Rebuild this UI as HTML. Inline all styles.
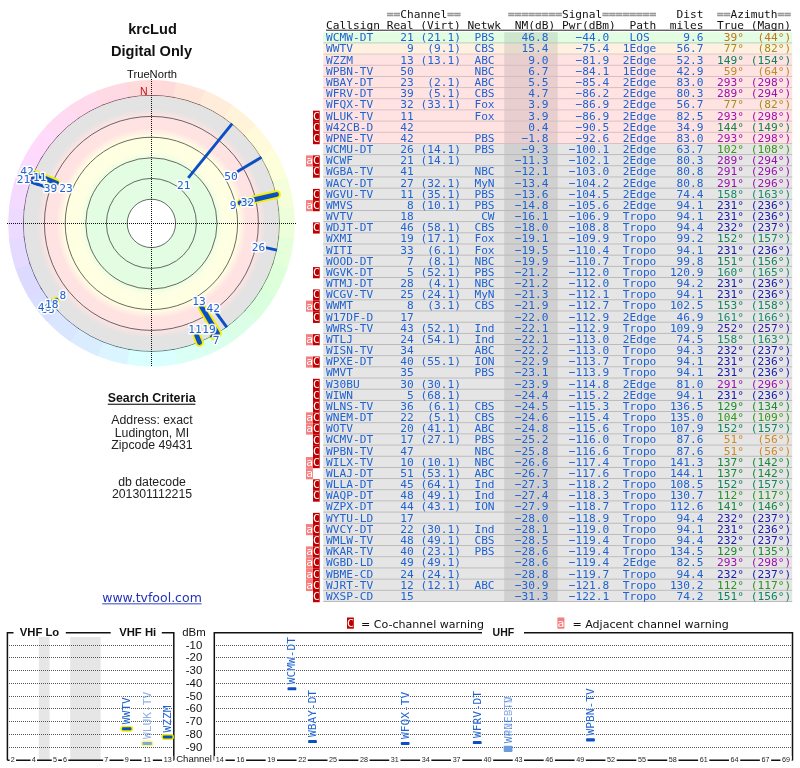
<!DOCTYPE html>
<html><head><meta charset="utf-8"><title>TV Fool radar plot - krcLud</title>
<style>html,body{margin:0;padding:0;background:#fff}svg{display:block;will-change:transform}.m{font-family:"DejaVu Sans Mono", "Liberation Mono", monospace;font-size:11px}.s{font-family:"Liberation Sans", sans-serif}.v{font-family:"DejaVu Sans", "Liberation Sans", sans-serif}</style></head><body>
<svg width="800" height="768" viewBox="0 0 800 768">
<rect width="800" height="768" fill="#fff"/>
<defs><radialGradient id="rg" gradientUnits="userSpaceOnUse" cx="151.4" cy="223.4" r="128">
<stop offset="0.0000" stop-color="#e2fde2"/>
<stop offset="0.4922" stop-color="#e2fde2"/>
<stop offset="0.5586" stop-color="#feffe2"/>
<stop offset="0.6758" stop-color="#ffffe2"/>
<stop offset="0.7422" stop-color="#ffe3e3"/>
<stop offset="0.8359" stop-color="#ffe3e3"/>
<stop offset="0.8945" stop-color="#e3e3e3"/>
<stop offset="1.0000" stop-color="#e3e3e3"/>
</radialGradient></defs>
<path d="M151.40 223.40L125.78 82.41A143.3 143.3 0 0 1 177.02 82.41Z" fill="#ffdada"/>
<path d="M151.40 223.40L175.54 82.15A143.3 143.3 0 0 1 206.47 91.10Z" fill="#ffe4da"/>
<path d="M151.40 223.40L205.08 90.53A143.3 143.3 0 0 1 233.39 105.87Z" fill="#ffecda"/>
<path d="M151.40 223.40L232.15 105.02A143.3 143.3 0 0 1 256.54 126.04Z" fill="#fff3da"/>
<path d="M151.40 223.40L255.52 124.94A143.3 143.3 0 0 1 274.87 150.67Z" fill="#fffbda"/>
<path d="M151.40 223.40L274.10 149.38A143.3 143.3 0 0 1 287.53 178.64Z" fill="#fcffda"/>
<path d="M151.40 223.40L287.05 177.22A143.3 143.3 0 0 1 293.94 208.67Z" fill="#f4ffda"/>
<path d="M151.40 223.40L293.78 207.18A143.3 143.3 0 0 1 293.81 239.37Z" fill="#edffda"/>
<path d="M151.40 223.40L293.97 237.88A143.3 143.3 0 0 1 287.14 269.34Z" fill="#e5ffda"/>
<path d="M151.40 223.40L287.61 267.92A143.3 143.3 0 0 1 274.23 297.20Z" fill="#ddffda"/>
<path d="M151.40 223.40L275.00 295.91A143.3 143.3 0 0 1 255.69 321.68Z" fill="#daffde"/>
<path d="M151.40 223.40L256.71 320.58A143.3 143.3 0 0 1 232.36 341.64Z" fill="#daffe6"/>
<path d="M151.40 223.40L233.59 340.78A143.3 143.3 0 0 1 205.31 356.17Z" fill="#daffed"/>
<path d="M151.40 223.40L206.70 355.60A143.3 143.3 0 0 1 175.79 364.61Z" fill="#dafff5"/>
<path d="M151.40 223.40L177.27 364.35A143.3 143.3 0 0 1 125.53 364.35Z" fill="#daffff"/>
<path d="M151.40 223.40L127.01 364.61A143.3 143.3 0 0 1 96.10 355.60Z" fill="#daf5ff"/>
<path d="M151.40 223.40L97.49 356.17A143.3 143.3 0 0 1 69.21 340.78Z" fill="#daedff"/>
<path d="M151.40 223.40L70.44 341.64A143.3 143.3 0 0 1 46.09 320.58Z" fill="#dae6ff"/>
<path d="M151.40 223.40L47.11 321.68A143.3 143.3 0 0 1 27.80 295.91Z" fill="#dadeff"/>
<path d="M151.40 223.40L28.57 297.20A143.3 143.3 0 0 1 15.19 267.92Z" fill="#dddaff"/>
<path d="M151.40 223.40L15.66 269.34A143.3 143.3 0 0 1 8.83 237.88Z" fill="#e5daff"/>
<path d="M151.40 223.40L8.99 239.37A143.3 143.3 0 0 1 9.02 207.18Z" fill="#eddaff"/>
<path d="M151.40 223.40L8.86 208.67A143.3 143.3 0 0 1 15.75 177.22Z" fill="#f4daff"/>
<path d="M151.40 223.40L15.27 178.64A143.3 143.3 0 0 1 28.70 149.38Z" fill="#fcdaff"/>
<path d="M151.40 223.40L27.93 150.67A143.3 143.3 0 0 1 47.28 124.94Z" fill="#ffdafb"/>
<path d="M151.40 223.40L46.26 126.04A143.3 143.3 0 0 1 70.65 105.02Z" fill="#ffdaf3"/>
<path d="M151.40 223.40L69.41 105.87A143.3 143.3 0 0 1 97.72 90.53Z" fill="#ffdaec"/>
<path d="M151.40 223.40L96.33 91.10A143.3 143.3 0 0 1 127.26 82.15Z" fill="#ffdae4"/>
<circle cx="151.4" cy="223.4" r="127.9" fill="#e3e3e3"/>
<path d="M128.53 97.56A127.9 127.9 0 0 1 174.27 97.56" fill="none" stroke="#733f3f" stroke-width="0.9"/>
<path d="M172.95 97.33A127.9 127.9 0 0 1 200.55 105.32" fill="none" stroke="#734d3f" stroke-width="0.9"/>
<path d="M199.31 104.81A127.9 127.9 0 0 1 224.58 118.50" fill="none" stroke="#73583f" stroke-width="0.9"/>
<path d="M223.47 117.74A127.9 127.9 0 0 1 245.24 136.50" fill="none" stroke="#73623f" stroke-width="0.9"/>
<path d="M244.33 135.52A127.9 127.9 0 0 1 261.60 158.49" fill="none" stroke="#736d3f" stroke-width="0.9"/>
<path d="M260.92 157.34A127.9 127.9 0 0 1 272.90 183.45" fill="none" stroke="#6e733f" stroke-width="0.9"/>
<path d="M272.48 182.18A127.9 127.9 0 0 1 278.62 210.25" fill="none" stroke="#64733f" stroke-width="0.9"/>
<path d="M278.48 208.92A127.9 127.9 0 0 1 278.50 237.66" fill="none" stroke="#59733f" stroke-width="0.9"/>
<path d="M278.65 236.33A127.9 127.9 0 0 1 272.55 264.41" fill="none" stroke="#4e733f" stroke-width="0.9"/>
<path d="M272.97 263.14A127.9 127.9 0 0 1 261.03 289.27" fill="none" stroke="#44733f" stroke-width="0.9"/>
<path d="M261.72 288.12A127.9 127.9 0 0 1 244.48 311.12" fill="none" stroke="#3f7345" stroke-width="0.9"/>
<path d="M245.40 310.14A127.9 127.9 0 0 1 223.66 328.93" fill="none" stroke="#3f7350" stroke-width="0.9"/>
<path d="M224.76 328.17A127.9 127.9 0 0 1 199.52 341.90" fill="none" stroke="#3f735a" stroke-width="0.9"/>
<path d="M200.76 341.39A127.9 127.9 0 0 1 173.17 349.43" fill="none" stroke="#3f7365" stroke-width="0.9"/>
<path d="M174.49 349.20A127.9 127.9 0 0 1 128.31 349.20" fill="none" stroke="#3f7373" stroke-width="0.9"/>
<path d="M129.63 349.43A127.9 127.9 0 0 1 102.04 341.39" fill="none" stroke="#3f6573" stroke-width="0.9"/>
<path d="M103.28 341.90A127.9 127.9 0 0 1 78.04 328.17" fill="none" stroke="#3f5a73" stroke-width="0.9"/>
<path d="M79.14 328.93A127.9 127.9 0 0 1 57.40 310.14" fill="none" stroke="#3f5073" stroke-width="0.9"/>
<path d="M58.32 311.12A127.9 127.9 0 0 1 41.08 288.12" fill="none" stroke="#3f4573" stroke-width="0.9"/>
<path d="M41.77 289.27A127.9 127.9 0 0 1 29.83 263.14" fill="none" stroke="#443f73" stroke-width="0.9"/>
<path d="M30.25 264.41A127.9 127.9 0 0 1 24.15 236.33" fill="none" stroke="#4e3f73" stroke-width="0.9"/>
<path d="M24.30 237.66A127.9 127.9 0 0 1 24.32 208.92" fill="none" stroke="#593f73" stroke-width="0.9"/>
<path d="M24.18 210.25A127.9 127.9 0 0 1 30.32 182.18" fill="none" stroke="#643f73" stroke-width="0.9"/>
<path d="M29.90 183.45A127.9 127.9 0 0 1 41.88 157.34" fill="none" stroke="#6e3f73" stroke-width="0.9"/>
<path d="M41.20 158.49A127.9 127.9 0 0 1 58.47 135.52" fill="none" stroke="#733f6d" stroke-width="0.9"/>
<path d="M57.56 136.50A127.9 127.9 0 0 1 79.33 117.74" fill="none" stroke="#733f62" stroke-width="0.9"/>
<path d="M78.22 118.50A127.9 127.9 0 0 1 103.49 104.81" fill="none" stroke="#733f58" stroke-width="0.9"/>
<path d="M102.25 105.32A127.9 127.9 0 0 1 129.85 97.33" fill="none" stroke="#733f4d" stroke-width="0.9"/>
<circle cx="151.4" cy="223.4" r="127.6" fill="url(#rg)"/>
<circle cx="151.4" cy="223.4" r="24.2" fill="#fff"/>
<circle cx="151.4" cy="223.4" r="24.2" fill="none" stroke="#3a3a3a" stroke-width="0.75"/>
<circle cx="151.4" cy="223.4" r="45" fill="none" stroke="#3a3a3a" stroke-width="0.75"/>
<circle cx="151.4" cy="223.4" r="65.6" fill="none" stroke="#3a3a3a" stroke-width="0.75"/>
<circle cx="151.4" cy="223.4" r="86.2" fill="none" stroke="#3a3a3a" stroke-width="0.75"/>
<circle cx="151.4" cy="223.4" r="107" fill="none" stroke="#3a3a3a" stroke-width="0.75"/>
<path d="M7 223.5 H296 M151.5 79 V366" stroke="#111" stroke-width="1" stroke-dasharray="1 1" fill="none" shape-rendering="crispEdges"/>
<path d="M241.10 202.69L276.61 194.49" stroke="#f4ee00" stroke-width="8.6" stroke-linecap="round"/>
<path d="M202.23 307.99L217.58 333.55" stroke="#f4ee00" stroke-width="8.6" stroke-linecap="round"/>
<path d="M55.70 182.78L33.12 173.19" stroke="#f4ee00" stroke-width="8.6" stroke-linecap="round"/>
<path d="M197.13 336.59L199.54 342.54" stroke="#f4ee00" stroke-width="8.6" stroke-linecap="round"/>
<path d="M55.56 301.01L51.54 304.27" stroke="#f4ee00" stroke-width="8.6" stroke-linecap="round"/>
<path d="M213.74 335.87L213.70 335.79" stroke="#f4ee00" stroke-width="8.6" stroke-linecap="round"/>
<path d="M188.25 177.89L232.20 123.61" stroke="#0c4fc4" stroke-width="2.9"/>
<path d="M240.13 202.92L276.51 194.52" stroke="#0c4fc4" stroke-width="4.8" stroke-linecap="round"/>
<path d="M201.71 307.13L217.53 333.46" stroke="#0c4fc4" stroke-width="4.8" stroke-linecap="round"/>
<path d="M237.17 171.86L261.46 157.27" stroke="#0c4fc4" stroke-width="2.9"/>
<path d="M58.15 183.82L33.21 173.23" stroke="#0c4fc4" stroke-width="2.9"/>
<path d="M54.83 190.15L30.00 181.60" stroke="#0c4fc4" stroke-width="2.9"/>
<path d="M251.72 200.24L276.51 194.52" stroke="#0c4fc4" stroke-width="2.9"/>
<path d="M56.62 183.17L33.21 173.23" stroke="#0c4fc4" stroke-width="4.8" stroke-linecap="round"/>
<path d="M214.05 309.63L226.87 327.28" stroke="#0c4fc4" stroke-width="2.9"/>
<path d="M51.19 180.86L33.21 173.23" stroke="#0c4fc4" stroke-width="2.9"/>
<path d="M265.48 247.65L276.99 250.10" stroke="#0c4fc4" stroke-width="2.9"/>
<path d="M39.17 184.76L30.00 181.60" stroke="#0c4fc4" stroke-width="2.9"/>
<path d="M39.82 180.57L31.53 177.39" stroke="#0c4fc4" stroke-width="2.9"/>
<path d="M38.56 180.08L31.53 177.39" stroke="#0c4fc4" stroke-width="2.9"/>
<path d="M196.76 335.66L199.50 342.45" stroke="#0c4fc4" stroke-width="4.8" stroke-linecap="round"/>
<path d="M56.34 300.38L51.61 304.20" stroke="#0c4fc4" stroke-width="4.8" stroke-linecap="round"/>
<path d="M55.30 301.22L51.61 304.20" stroke="#0c4fc4" stroke-width="2.9"/>
<path d="M52.40 300.75L50.22 302.45" stroke="#0c4fc4" stroke-width="2.9"/>
<path d="M210.91 335.33L211.68 336.77" stroke="#0c4fc4" stroke-width="2.9"/>
<path d="M52.56 303.44L51.61 304.20" stroke="#0c4fc4" stroke-width="2.9"/>
<path d="M213.26 335.00L213.65 335.70" stroke="#0c4fc4" stroke-width="4.8" stroke-linecap="round"/>
<text transform="translate(183.80 188.60) scale(1.0178 1)" text-anchor="middle" font-family='DejaVu Sans Mono, Liberation Mono, monospace' font-size="11" fill="#1f62d2" stroke="#fff" stroke-opacity="0.9" stroke-width="3.2" stroke-linejoin="round" paint-order="stroke">21</text>
<text transform="translate(231.00 180.40) scale(1.0178 1)" text-anchor="middle" font-family='DejaVu Sans Mono, Liberation Mono, monospace' font-size="11" fill="#1f62d2" stroke="#fff" stroke-opacity="0.9" stroke-width="3.2" stroke-linejoin="round" paint-order="stroke">50</text>
<text transform="translate(233.00 209.20) scale(1.0178 1)" text-anchor="middle" font-family='DejaVu Sans Mono, Liberation Mono, monospace' font-size="11" fill="#1f62d2" stroke="#fff" stroke-opacity="0.9" stroke-width="3.2" stroke-linejoin="round" paint-order="stroke">9</text>
<text transform="translate(247.50 205.50) scale(1.0178 1)" text-anchor="middle" font-family='DejaVu Sans Mono, Liberation Mono, monospace' font-size="11" fill="#1f62d2" stroke="#fff" stroke-opacity="0.9" stroke-width="3.2" stroke-linejoin="round" paint-order="stroke">32</text>
<text transform="translate(258.50 251.00) scale(1.0178 1)" text-anchor="middle" font-family='DejaVu Sans Mono, Liberation Mono, monospace' font-size="11" fill="#1f62d2" stroke="#fff" stroke-opacity="0.9" stroke-width="3.2" stroke-linejoin="round" paint-order="stroke">26</text>
<text transform="translate(199.10 304.70) scale(1.0178 1)" text-anchor="middle" font-family='DejaVu Sans Mono, Liberation Mono, monospace' font-size="11" fill="#1f62d2" stroke="#fff" stroke-opacity="0.9" stroke-width="3.2" stroke-linejoin="round" paint-order="stroke">13</text>
<text transform="translate(213.30 311.60) scale(1.0178 1)" text-anchor="middle" font-family='DejaVu Sans Mono, Liberation Mono, monospace' font-size="11" fill="#1f62d2" stroke="#fff" stroke-opacity="0.9" stroke-width="3.2" stroke-linejoin="round" paint-order="stroke">42</text>
<text transform="translate(195.00 332.50) scale(1.0178 1)" text-anchor="middle" font-family='DejaVu Sans Mono, Liberation Mono, monospace' font-size="11" fill="#1f62d2" stroke="#fff" stroke-opacity="0.9" stroke-width="3.2" stroke-linejoin="round" paint-order="stroke">11</text>
<text transform="translate(209.00 332.50) scale(1.0178 1)" text-anchor="middle" font-family='DejaVu Sans Mono, Liberation Mono, monospace' font-size="11" fill="#1f62d2" stroke="#fff" stroke-opacity="0.9" stroke-width="3.2" stroke-linejoin="round" paint-order="stroke">19</text>
<text transform="translate(216.00 343.70) scale(1.0178 1)" text-anchor="middle" font-family='DejaVu Sans Mono, Liberation Mono, monospace' font-size="11" fill="#1f62d2" stroke="#fff" stroke-opacity="0.9" stroke-width="3.2" stroke-linejoin="round" paint-order="stroke">7</text>
<text transform="translate(48.00 312.50) scale(1.0178 1)" text-anchor="middle" font-family='DejaVu Sans Mono, Liberation Mono, monospace' font-size="11" fill="#1f62d2" stroke="#fff" stroke-opacity="0.9" stroke-width="3.2" stroke-linejoin="round" paint-order="stroke">33</text>
<text transform="translate(44.60 310.50) scale(1.0178 1)" text-anchor="middle" font-family='DejaVu Sans Mono, Liberation Mono, monospace' font-size="11" fill="#1f62d2" stroke="#fff" stroke-opacity="0.9" stroke-width="3.2" stroke-linejoin="round" paint-order="stroke">46</text>
<text transform="translate(51.80 307.80) scale(1.0178 1)" text-anchor="middle" font-family='DejaVu Sans Mono, Liberation Mono, monospace' font-size="11" fill="#1f62d2" stroke="#fff" stroke-opacity="0.9" stroke-width="3.2" stroke-linejoin="round" paint-order="stroke">18</text>
<text transform="translate(62.90 298.80) scale(1.0178 1)" text-anchor="middle" font-family='DejaVu Sans Mono, Liberation Mono, monospace' font-size="11" fill="#1f62d2" stroke="#fff" stroke-opacity="0.9" stroke-width="3.2" stroke-linejoin="round" paint-order="stroke">8</text>
<text transform="translate(27.00 175.00) scale(1.0178 1)" text-anchor="middle" font-family='DejaVu Sans Mono, Liberation Mono, monospace' font-size="11" fill="#1f62d2" stroke="#fff" stroke-opacity="0.9" stroke-width="3.2" stroke-linejoin="round" paint-order="stroke">42</text>
<text transform="translate(23.50 183.00) scale(1.0178 1)" text-anchor="middle" font-family='DejaVu Sans Mono, Liberation Mono, monospace' font-size="11" fill="#1f62d2" stroke="#fff" stroke-opacity="0.9" stroke-width="3.2" stroke-linejoin="round" paint-order="stroke">21</text>
<text transform="translate(39.70 181.00) scale(1.0178 1)" text-anchor="middle" font-family='DejaVu Sans Mono, Liberation Mono, monospace' font-size="11" fill="#1f62d2" stroke="#fff" stroke-opacity="0.9" stroke-width="3.2" stroke-linejoin="round" paint-order="stroke">11</text>
<text transform="translate(50.50 192.00) scale(1.0178 1)" text-anchor="middle" font-family='DejaVu Sans Mono, Liberation Mono, monospace' font-size="11" fill="#1f62d2" stroke="#fff" stroke-opacity="0.9" stroke-width="3.2" stroke-linejoin="round" paint-order="stroke">39</text>
<text transform="translate(66.00 192.30) scale(1.0178 1)" text-anchor="middle" font-family='DejaVu Sans Mono, Liberation Mono, monospace' font-size="11" fill="#1f62d2" stroke="#fff" stroke-opacity="0.9" stroke-width="3.2" stroke-linejoin="round" paint-order="stroke">23</text>
<text class="s" x="152.5" y="34" text-anchor="middle" font-size="14.6" font-weight="bold" fill="#111">krcLud</text>
<text class="s" x="151.5" y="56" text-anchor="middle" font-size="14.6" font-weight="bold" fill="#111">Digital Only</text>
<text class="s" x="152" y="77.6" text-anchor="middle" font-size="11.2" fill="#111">TrueNorth</text>
<text class="s" x="143.8" y="95" text-anchor="middle" font-size="10.5" fill="#cc1111">N</text>
<text class="s" x="151.6" y="402" text-anchor="middle" font-size="12.35" font-weight="bold" fill="#111">Search Criteria</text>
<rect x="107.8" y="403.7" width="87.6" height="1.1" fill="#111"/>
<text class="s" x="152" y="423.8" text-anchor="middle" font-size="12.3" fill="#222">Address: exact</text>
<text class="s" x="152" y="436.9" text-anchor="middle" font-size="12.3" fill="#222">Ludington, MI</text>
<text class="s" x="152" y="448.8" text-anchor="middle" font-size="12.3" fill="#222">Zipcode 49431</text>
<text class="s" x="152" y="485.6" text-anchor="middle" font-size="12.3" fill="#222">db datecode</text>
<text class="s" x="152" y="497.8" text-anchor="middle" font-size="12.3" fill="#222">201301112215</text>
<text class="v" x="152" y="602.2" text-anchor="middle" font-size="12.5" fill="#2233bb">www.tvfool.com</text>
<rect x="102.2" y="603.4" width="99.4" height="0.9" fill="#2233bb"/>
<text class="m" transform="translate(386.76 18.30) scale(1.0178 1)" fill="#111"><tspan fill="#999" stroke="#999" stroke-width="0.5">==</tspan>Channel<tspan fill="#999" stroke="#999" stroke-width="0.5">==</tspan></text>
<text class="m" transform="translate(508.08 18.30) scale(1.0178 1)" fill="#111"><tspan fill="#999" stroke="#999" stroke-width="0.5">========</tspan>Signal<tspan fill="#999" stroke="#999" stroke-width="0.5">========</tspan></text>
<text class="m" transform="translate(676.58 18.30) scale(1.0178 1)" fill="#111">Dist</text>
<text class="m" transform="translate(717.02 18.30) scale(1.0178 1)" fill="#111"><tspan fill="#999" stroke="#999" stroke-width="0.5">==</tspan>Azimuth<tspan fill="#999" stroke="#999" stroke-width="0.5">==</tspan></text>
<text class="m" transform="translate(326.10 29.30) scale(1.0178 1)" fill="#111">Callsign Real (Virt) Netwk</text>
<text class="m" transform="translate(514.82 29.30) scale(1.0178 1)" fill="#111">NM(dB) Pwr(dBm)</text>
<text class="m" transform="translate(629.40 29.30) scale(1.0178 1)" fill="#111">Path</text>
<text class="m" transform="translate(669.84 29.30) scale(1.0178 1)" fill="#111">miles</text>
<text class="m" transform="translate(717.02 29.30) scale(1.0178 1)" fill="#111">True (Magn)</text>
<rect x="326" y="29.7" width="465" height="1.0" fill="#222"/>
<rect x="323.3" y="32.20" width="468.9" height="11.22" fill="#e2fde2"/>
<rect x="323.3" y="43.37" width="468.9" height="11.22" fill="#fff0e2"/>
<rect x="323.3" y="54.54" width="468.9" height="11.22" fill="#ffe3e3"/>
<rect x="323.3" y="65.71" width="468.9" height="11.22" fill="#ffe3e3"/>
<rect x="323.3" y="76.88" width="468.9" height="11.22" fill="#ffe3e3"/>
<rect x="323.3" y="88.06" width="468.9" height="11.22" fill="#ffe3e3"/>
<rect x="323.3" y="99.23" width="468.9" height="11.22" fill="#ffe3e3"/>
<rect x="323.3" y="110.40" width="468.9" height="11.22" fill="#ffe3e3"/>
<rect x="323.3" y="121.57" width="468.9" height="11.22" fill="#ffe3e3"/>
<rect x="323.3" y="132.74" width="468.9" height="11.22" fill="#ffe3e3"/>
<rect x="323.3" y="143.91" width="468.9" height="11.22" fill="#e5e5e5"/>
<rect x="323.3" y="155.08" width="468.9" height="11.22" fill="#e5e5e5"/>
<rect x="323.3" y="166.25" width="468.9" height="11.22" fill="#e5e5e5"/>
<rect x="323.3" y="177.42" width="468.9" height="11.22" fill="#e5e5e5"/>
<rect x="323.3" y="188.59" width="468.9" height="11.22" fill="#e5e5e5"/>
<rect x="323.3" y="199.76" width="468.9" height="11.22" fill="#e5e5e5"/>
<rect x="323.3" y="210.94" width="468.9" height="11.22" fill="#e5e5e5"/>
<rect x="323.3" y="222.11" width="468.9" height="11.22" fill="#e5e5e5"/>
<rect x="323.3" y="233.28" width="468.9" height="11.22" fill="#e5e5e5"/>
<rect x="323.3" y="244.45" width="468.9" height="11.22" fill="#e5e5e5"/>
<rect x="323.3" y="255.62" width="468.9" height="11.22" fill="#e5e5e5"/>
<rect x="323.3" y="266.79" width="468.9" height="11.22" fill="#e5e5e5"/>
<rect x="323.3" y="277.96" width="468.9" height="11.22" fill="#e5e5e5"/>
<rect x="323.3" y="289.13" width="468.9" height="11.22" fill="#e5e5e5"/>
<rect x="323.3" y="300.30" width="468.9" height="11.22" fill="#e5e5e5"/>
<rect x="323.3" y="311.47" width="468.9" height="11.22" fill="#e5e5e5"/>
<rect x="323.3" y="322.65" width="468.9" height="11.22" fill="#e5e5e5"/>
<rect x="323.3" y="333.82" width="468.9" height="11.22" fill="#e5e5e5"/>
<rect x="323.3" y="344.99" width="468.9" height="11.22" fill="#e5e5e5"/>
<rect x="323.3" y="356.16" width="468.9" height="11.22" fill="#e5e5e5"/>
<rect x="323.3" y="367.33" width="468.9" height="11.22" fill="#e5e5e5"/>
<rect x="323.3" y="378.50" width="468.9" height="11.22" fill="#e5e5e5"/>
<rect x="323.3" y="389.67" width="468.9" height="11.22" fill="#e5e5e5"/>
<rect x="323.3" y="400.84" width="468.9" height="11.22" fill="#e5e5e5"/>
<rect x="323.3" y="412.01" width="468.9" height="11.22" fill="#e5e5e5"/>
<rect x="323.3" y="423.18" width="468.9" height="11.22" fill="#e5e5e5"/>
<rect x="323.3" y="434.36" width="468.9" height="11.22" fill="#e5e5e5"/>
<rect x="323.3" y="445.53" width="468.9" height="11.22" fill="#e5e5e5"/>
<rect x="323.3" y="456.70" width="468.9" height="11.22" fill="#e5e5e5"/>
<rect x="323.3" y="467.87" width="468.9" height="11.22" fill="#e5e5e5"/>
<rect x="323.3" y="479.04" width="468.9" height="11.22" fill="#e5e5e5"/>
<rect x="323.3" y="490.21" width="468.9" height="11.22" fill="#e5e5e5"/>
<rect x="323.3" y="501.38" width="468.9" height="11.22" fill="#e5e5e5"/>
<rect x="323.3" y="512.55" width="468.9" height="11.22" fill="#e5e5e5"/>
<rect x="323.3" y="523.72" width="468.9" height="11.22" fill="#e5e5e5"/>
<rect x="323.3" y="534.89" width="468.9" height="11.22" fill="#e5e5e5"/>
<rect x="323.3" y="546.07" width="468.9" height="11.22" fill="#e5e5e5"/>
<rect x="323.3" y="557.24" width="468.9" height="11.22" fill="#e5e5e5"/>
<rect x="323.3" y="568.41" width="468.9" height="11.22" fill="#e5e5e5"/>
<rect x="323.3" y="579.58" width="468.9" height="11.22" fill="#e5e5e5"/>
<rect x="323.3" y="590.75" width="468.9" height="11.22" fill="#e5e5e5"/>
<rect x="504.2" y="32.20" width="53.5" height="569.72" fill="#000" fill-opacity="0.09"/>
<rect x="323.3" y="42.47" width="468.9" height="0.9" fill="#b4c8b4"/>
<rect x="323.3" y="53.64" width="468.9" height="0.9" fill="#d2c6ba"/>
<rect x="323.3" y="64.81" width="468.9" height="0.9" fill="#d4bcbc"/>
<rect x="323.3" y="75.98" width="468.9" height="0.9" fill="#d4bcbc"/>
<rect x="323.3" y="87.16" width="468.9" height="0.9" fill="#d4bcbc"/>
<rect x="323.3" y="98.33" width="468.9" height="0.9" fill="#d4bcbc"/>
<rect x="323.3" y="109.50" width="468.9" height="0.9" fill="#d4bcbc"/>
<rect x="323.3" y="120.67" width="468.9" height="0.9" fill="#d4bcbc"/>
<rect x="323.3" y="131.84" width="468.9" height="0.9" fill="#d4bcbc"/>
<rect x="323.3" y="143.01" width="468.9" height="0.9" fill="#d4bcbc"/>
<rect x="323.3" y="154.18" width="468.9" height="0.9" fill="#b6b6b6"/>
<rect x="323.3" y="165.35" width="468.9" height="0.9" fill="#b6b6b6"/>
<rect x="323.3" y="176.52" width="468.9" height="0.9" fill="#b6b6b6"/>
<rect x="323.3" y="187.69" width="468.9" height="0.9" fill="#b6b6b6"/>
<rect x="323.3" y="198.86" width="468.9" height="0.9" fill="#b6b6b6"/>
<rect x="323.3" y="210.04" width="468.9" height="0.9" fill="#b6b6b6"/>
<rect x="323.3" y="221.21" width="468.9" height="0.9" fill="#b6b6b6"/>
<rect x="323.3" y="232.38" width="468.9" height="0.9" fill="#b6b6b6"/>
<rect x="323.3" y="243.55" width="468.9" height="0.9" fill="#b6b6b6"/>
<rect x="323.3" y="254.72" width="468.9" height="0.9" fill="#b6b6b6"/>
<rect x="323.3" y="265.89" width="468.9" height="0.9" fill="#b6b6b6"/>
<rect x="323.3" y="277.06" width="468.9" height="0.9" fill="#b6b6b6"/>
<rect x="323.3" y="288.23" width="468.9" height="0.9" fill="#b6b6b6"/>
<rect x="323.3" y="299.40" width="468.9" height="0.9" fill="#b6b6b6"/>
<rect x="323.3" y="310.57" width="468.9" height="0.9" fill="#b6b6b6"/>
<rect x="323.3" y="321.75" width="468.9" height="0.9" fill="#b6b6b6"/>
<rect x="323.3" y="332.92" width="468.9" height="0.9" fill="#b6b6b6"/>
<rect x="323.3" y="344.09" width="468.9" height="0.9" fill="#b6b6b6"/>
<rect x="323.3" y="355.26" width="468.9" height="0.9" fill="#b6b6b6"/>
<rect x="323.3" y="366.43" width="468.9" height="0.9" fill="#b6b6b6"/>
<rect x="323.3" y="377.60" width="468.9" height="0.9" fill="#b6b6b6"/>
<rect x="323.3" y="388.77" width="468.9" height="0.9" fill="#b6b6b6"/>
<rect x="323.3" y="399.94" width="468.9" height="0.9" fill="#b6b6b6"/>
<rect x="323.3" y="411.11" width="468.9" height="0.9" fill="#b6b6b6"/>
<rect x="323.3" y="422.28" width="468.9" height="0.9" fill="#b6b6b6"/>
<rect x="323.3" y="433.46" width="468.9" height="0.9" fill="#b6b6b6"/>
<rect x="323.3" y="444.63" width="468.9" height="0.9" fill="#b6b6b6"/>
<rect x="323.3" y="455.80" width="468.9" height="0.9" fill="#b6b6b6"/>
<rect x="323.3" y="466.97" width="468.9" height="0.9" fill="#b6b6b6"/>
<rect x="323.3" y="478.14" width="468.9" height="0.9" fill="#b6b6b6"/>
<rect x="323.3" y="489.31" width="468.9" height="0.9" fill="#b6b6b6"/>
<rect x="323.3" y="500.48" width="468.9" height="0.9" fill="#b6b6b6"/>
<rect x="323.3" y="511.65" width="468.9" height="0.9" fill="#b6b6b6"/>
<rect x="323.3" y="522.82" width="468.9" height="0.9" fill="#b6b6b6"/>
<rect x="323.3" y="534.00" width="468.9" height="0.9" fill="#b6b6b6"/>
<rect x="323.3" y="545.17" width="468.9" height="0.9" fill="#b6b6b6"/>
<rect x="323.3" y="556.34" width="468.9" height="0.9" fill="#b6b6b6"/>
<rect x="323.3" y="567.51" width="468.9" height="0.9" fill="#b6b6b6"/>
<rect x="323.3" y="578.68" width="468.9" height="0.9" fill="#b6b6b6"/>
<rect x="323.3" y="589.85" width="468.9" height="0.9" fill="#b6b6b6"/>
<rect x="323.3" y="601.02" width="468.9" height="0.9" fill="#b6b6b6"/>
<text class="m" transform="translate(326.10 41.30) scale(1.0178 0.89)" fill="#1f62d2">WCMW-DT</text>
<text class="m" transform="translate(413.72 41.30) scale(1.0178 1)" fill="#1f62d2" text-anchor="end">21</text>
<text class="m" transform="translate(460.90 41.30) scale(1.0178 1)" fill="#1f62d2" text-anchor="end">(21.1)</text>
<text class="m" transform="translate(494.60 41.30) scale(1.0178 0.92)" fill="#1f62d2" text-anchor="end">PBS</text>
<text class="m" transform="translate(548.52 41.30) scale(1.0178 1)" fill="#1f62d2" text-anchor="end">46.8</text>
<text class="m" transform="translate(609.18 41.30) scale(1.0178 1)" fill="#1f62d2" text-anchor="end">−44.0</text>
<text class="m" transform="translate(649.62 41.30) scale(1.0178 1)" fill="#1f62d2" text-anchor="end">LOS</text>
<text class="m" transform="translate(703.54 41.30) scale(1.0178 1)" fill="#1f62d2" text-anchor="end">9.6</text>
<text class="m" transform="translate(743.98 41.30) scale(1.0178 1)" fill="#c87018" text-anchor="end">39°</text>
<text class="m" transform="translate(791.16 41.30) scale(1.0178 1)" fill="#c87018" text-anchor="end">(44°)</text>
<text class="m" transform="translate(326.10 52.47) scale(1.0178 0.89)" fill="#1f62d2">WWTV</text>
<text class="m" transform="translate(413.72 52.47) scale(1.0178 1)" fill="#1f62d2" text-anchor="end">9</text>
<text class="m" transform="translate(460.90 52.47) scale(1.0178 1)" fill="#1f62d2" text-anchor="end">(9.1)</text>
<text class="m" transform="translate(494.60 52.47) scale(1.0178 0.92)" fill="#1f62d2" text-anchor="end">CBS</text>
<text class="m" transform="translate(548.52 52.47) scale(1.0178 1)" fill="#1f62d2" text-anchor="end">15.4</text>
<text class="m" transform="translate(609.18 52.47) scale(1.0178 1)" fill="#1f62d2" text-anchor="end">−75.4</text>
<text class="m" transform="translate(656.36 52.47) scale(1.0178 1)" fill="#1f62d2" text-anchor="end">1Edge</text>
<text class="m" transform="translate(703.54 52.47) scale(1.0178 1)" fill="#1f62d2" text-anchor="end">56.7</text>
<text class="m" transform="translate(743.98 52.47) scale(1.0178 1)" fill="#a09018" text-anchor="end">77°</text>
<text class="m" transform="translate(791.16 52.47) scale(1.0178 1)" fill="#a09018" text-anchor="end">(82°)</text>
<text class="m" transform="translate(326.10 63.64) scale(1.0178 0.89)" fill="#1f62d2">WZZM</text>
<text class="m" transform="translate(413.72 63.64) scale(1.0178 1)" fill="#1f62d2" text-anchor="end">13</text>
<text class="m" transform="translate(460.90 63.64) scale(1.0178 1)" fill="#1f62d2" text-anchor="end">(13.1)</text>
<text class="m" transform="translate(494.60 63.64) scale(1.0178 0.92)" fill="#1f62d2" text-anchor="end">ABC</text>
<text class="m" transform="translate(548.52 63.64) scale(1.0178 1)" fill="#1f62d2" text-anchor="end">9.0</text>
<text class="m" transform="translate(609.18 63.64) scale(1.0178 1)" fill="#1f62d2" text-anchor="end">−81.9</text>
<text class="m" transform="translate(656.36 63.64) scale(1.0178 1)" fill="#1f62d2" text-anchor="end">2Edge</text>
<text class="m" transform="translate(703.54 63.64) scale(1.0178 1)" fill="#1f62d2" text-anchor="end">52.3</text>
<text class="m" transform="translate(743.98 63.64) scale(1.0178 1)" fill="#108058" text-anchor="end">149°</text>
<text class="m" transform="translate(791.16 63.64) scale(1.0178 1)" fill="#108058" text-anchor="end">(154°)</text>
<text class="m" transform="translate(326.10 74.81) scale(1.0178 0.89)" fill="#1f62d2">WPBN-TV</text>
<text class="m" transform="translate(413.72 74.81) scale(1.0178 1)" fill="#1f62d2" text-anchor="end">50</text>
<text class="m" transform="translate(494.60 74.81) scale(1.0178 0.92)" fill="#1f62d2" text-anchor="end">NBC</text>
<text class="m" transform="translate(548.52 74.81) scale(1.0178 1)" fill="#1f62d2" text-anchor="end">6.7</text>
<text class="m" transform="translate(609.18 74.81) scale(1.0178 1)" fill="#1f62d2" text-anchor="end">−84.1</text>
<text class="m" transform="translate(656.36 74.81) scale(1.0178 1)" fill="#1f62d2" text-anchor="end">1Edge</text>
<text class="m" transform="translate(703.54 74.81) scale(1.0178 1)" fill="#1f62d2" text-anchor="end">42.9</text>
<text class="m" transform="translate(743.98 74.81) scale(1.0178 1)" fill="#c08a20" text-anchor="end">59°</text>
<text class="m" transform="translate(791.16 74.81) scale(1.0178 1)" fill="#c08a20" text-anchor="end">(64°)</text>
<text class="m" transform="translate(326.10 85.98) scale(1.0178 0.89)" fill="#1f62d2">WBAY-DT</text>
<text class="m" transform="translate(413.72 85.98) scale(1.0178 1)" fill="#1f62d2" text-anchor="end">23</text>
<text class="m" transform="translate(460.90 85.98) scale(1.0178 1)" fill="#1f62d2" text-anchor="end">(2.1)</text>
<text class="m" transform="translate(494.60 85.98) scale(1.0178 0.92)" fill="#1f62d2" text-anchor="end">ABC</text>
<text class="m" transform="translate(548.52 85.98) scale(1.0178 1)" fill="#1f62d2" text-anchor="end">5.5</text>
<text class="m" transform="translate(609.18 85.98) scale(1.0178 1)" fill="#1f62d2" text-anchor="end">−85.4</text>
<text class="m" transform="translate(656.36 85.98) scale(1.0178 1)" fill="#1f62d2" text-anchor="end">2Edge</text>
<text class="m" transform="translate(703.54 85.98) scale(1.0178 1)" fill="#1f62d2" text-anchor="end">83.0</text>
<text class="m" transform="translate(743.98 85.98) scale(1.0178 1)" fill="#a010b0" text-anchor="end">293°</text>
<text class="m" transform="translate(791.16 85.98) scale(1.0178 1)" fill="#a010b0" text-anchor="end">(298°)</text>
<text class="m" transform="translate(326.10 97.16) scale(1.0178 0.89)" fill="#1f62d2">WFRV-DT</text>
<text class="m" transform="translate(413.72 97.16) scale(1.0178 1)" fill="#1f62d2" text-anchor="end">39</text>
<text class="m" transform="translate(460.90 97.16) scale(1.0178 1)" fill="#1f62d2" text-anchor="end">(5.1)</text>
<text class="m" transform="translate(494.60 97.16) scale(1.0178 0.92)" fill="#1f62d2" text-anchor="end">CBS</text>
<text class="m" transform="translate(548.52 97.16) scale(1.0178 1)" fill="#1f62d2" text-anchor="end">4.7</text>
<text class="m" transform="translate(609.18 97.16) scale(1.0178 1)" fill="#1f62d2" text-anchor="end">−86.2</text>
<text class="m" transform="translate(656.36 97.16) scale(1.0178 1)" fill="#1f62d2" text-anchor="end">2Edge</text>
<text class="m" transform="translate(703.54 97.16) scale(1.0178 1)" fill="#1f62d2" text-anchor="end">80.3</text>
<text class="m" transform="translate(743.98 97.16) scale(1.0178 1)" fill="#9810b0" text-anchor="end">289°</text>
<text class="m" transform="translate(791.16 97.16) scale(1.0178 1)" fill="#9810b0" text-anchor="end">(294°)</text>
<text class="m" transform="translate(326.10 108.33) scale(1.0178 0.89)" fill="#1f62d2">WFQX-TV</text>
<text class="m" transform="translate(413.72 108.33) scale(1.0178 1)" fill="#1f62d2" text-anchor="end">32</text>
<text class="m" transform="translate(460.90 108.33) scale(1.0178 1)" fill="#1f62d2" text-anchor="end">(33.1)</text>
<text class="m" transform="translate(494.60 108.33) scale(1.0178 0.92)" fill="#1f62d2" text-anchor="end">Fox</text>
<text class="m" transform="translate(548.52 108.33) scale(1.0178 1)" fill="#1f62d2" text-anchor="end">3.9</text>
<text class="m" transform="translate(609.18 108.33) scale(1.0178 1)" fill="#1f62d2" text-anchor="end">−86.9</text>
<text class="m" transform="translate(656.36 108.33) scale(1.0178 1)" fill="#1f62d2" text-anchor="end">2Edge</text>
<text class="m" transform="translate(703.54 108.33) scale(1.0178 1)" fill="#1f62d2" text-anchor="end">56.7</text>
<text class="m" transform="translate(743.98 108.33) scale(1.0178 1)" fill="#a09018" text-anchor="end">77°</text>
<text class="m" transform="translate(791.16 108.33) scale(1.0178 1)" fill="#a09018" text-anchor="end">(82°)</text>
<rect x="313" y="110.70" width="6.7" height="11.17" fill="#c00000"/>
<text class="m" transform="translate(316.4 119.60) scale(1.0178 0.89)" text-anchor="middle" fill="#fff">C</text>
<text class="m" transform="translate(326.10 119.50) scale(1.0178 0.89)" fill="#1f62d2">WLUK-TV</text>
<text class="m" transform="translate(413.72 119.50) scale(1.0178 1)" fill="#1f62d2" text-anchor="end">11</text>
<text class="m" transform="translate(494.60 119.50) scale(1.0178 0.92)" fill="#1f62d2" text-anchor="end">Fox</text>
<text class="m" transform="translate(548.52 119.50) scale(1.0178 1)" fill="#1f62d2" text-anchor="end">3.9</text>
<text class="m" transform="translate(609.18 119.50) scale(1.0178 1)" fill="#1f62d2" text-anchor="end">−86.9</text>
<text class="m" transform="translate(656.36 119.50) scale(1.0178 1)" fill="#1f62d2" text-anchor="end">2Edge</text>
<text class="m" transform="translate(703.54 119.50) scale(1.0178 1)" fill="#1f62d2" text-anchor="end">82.5</text>
<text class="m" transform="translate(743.98 119.50) scale(1.0178 1)" fill="#a010b0" text-anchor="end">293°</text>
<text class="m" transform="translate(791.16 119.50) scale(1.0178 1)" fill="#a010b0" text-anchor="end">(298°)</text>
<rect x="313" y="121.87" width="6.7" height="11.17" fill="#c00000"/>
<text class="m" transform="translate(316.4 130.77) scale(1.0178 0.89)" text-anchor="middle" fill="#fff">C</text>
<text class="m" transform="translate(326.10 130.67) scale(1.0178 0.89)" fill="#1f62d2">W42CB-D</text>
<text class="m" transform="translate(413.72 130.67) scale(1.0178 1)" fill="#1f62d2" text-anchor="end">42</text>
<text class="m" transform="translate(548.52 130.67) scale(1.0178 1)" fill="#1f62d2" text-anchor="end">0.4</text>
<text class="m" transform="translate(609.18 130.67) scale(1.0178 1)" fill="#1f62d2" text-anchor="end">−90.5</text>
<text class="m" transform="translate(656.36 130.67) scale(1.0178 1)" fill="#1f62d2" text-anchor="end">2Edge</text>
<text class="m" transform="translate(703.54 130.67) scale(1.0178 1)" fill="#1f62d2" text-anchor="end">34.9</text>
<text class="m" transform="translate(743.98 130.67) scale(1.0178 1)" fill="#13834b" text-anchor="end">144°</text>
<text class="m" transform="translate(791.16 130.67) scale(1.0178 1)" fill="#13834b" text-anchor="end">(149°)</text>
<rect x="313" y="133.04" width="6.7" height="11.17" fill="#c00000"/>
<text class="m" transform="translate(316.4 141.94) scale(1.0178 0.89)" text-anchor="middle" fill="#fff">C</text>
<text class="m" transform="translate(326.10 141.84) scale(1.0178 0.89)" fill="#1f62d2">WPNE-TV</text>
<text class="m" transform="translate(413.72 141.84) scale(1.0178 1)" fill="#1f62d2" text-anchor="end">42</text>
<text class="m" transform="translate(494.60 141.84) scale(1.0178 0.92)" fill="#1f62d2" text-anchor="end">PBS</text>
<text class="m" transform="translate(548.52 141.84) scale(1.0178 1)" fill="#1f62d2" text-anchor="end">−1.8</text>
<text class="m" transform="translate(609.18 141.84) scale(1.0178 1)" fill="#1f62d2" text-anchor="end">−92.6</text>
<text class="m" transform="translate(656.36 141.84) scale(1.0178 1)" fill="#1f62d2" text-anchor="end">2Edge</text>
<text class="m" transform="translate(703.54 141.84) scale(1.0178 1)" fill="#1f62d2" text-anchor="end">83.0</text>
<text class="m" transform="translate(743.98 141.84) scale(1.0178 1)" fill="#a010b0" text-anchor="end">293°</text>
<text class="m" transform="translate(791.16 141.84) scale(1.0178 1)" fill="#a010b0" text-anchor="end">(298°)</text>
<text class="m" transform="translate(326.10 153.01) scale(1.0178 0.89)" fill="#1f62d2">WCMU-DT</text>
<text class="m" transform="translate(413.72 153.01) scale(1.0178 1)" fill="#1f62d2" text-anchor="end">26</text>
<text class="m" transform="translate(460.90 153.01) scale(1.0178 1)" fill="#1f62d2" text-anchor="end">(14.1)</text>
<text class="m" transform="translate(494.60 153.01) scale(1.0178 0.92)" fill="#1f62d2" text-anchor="end">PBS</text>
<text class="m" transform="translate(548.52 153.01) scale(1.0178 1)" fill="#1f62d2" text-anchor="end">−9.3</text>
<text class="m" transform="translate(609.18 153.01) scale(1.0178 1)" fill="#1f62d2" text-anchor="end">−100.1</text>
<text class="m" transform="translate(656.36 153.01) scale(1.0178 1)" fill="#1f62d2" text-anchor="end">2Edge</text>
<text class="m" transform="translate(703.54 153.01) scale(1.0178 1)" fill="#1f62d2" text-anchor="end">63.7</text>
<text class="m" transform="translate(743.98 153.01) scale(1.0178 1)" fill="#389818" text-anchor="end">102°</text>
<text class="m" transform="translate(791.16 153.01) scale(1.0178 1)" fill="#389818" text-anchor="end">(108°)</text>
<rect x="306" y="155.38" width="6.9" height="11.17" fill="#f58080"/>
<text class="m" transform="translate(309.5 164.28) scale(1.0178 0.95)" text-anchor="middle" fill="#fff">a</text>
<rect x="313" y="155.38" width="6.7" height="11.17" fill="#c00000"/>
<text class="m" transform="translate(316.4 164.28) scale(1.0178 0.89)" text-anchor="middle" fill="#fff">C</text>
<text class="m" transform="translate(326.10 164.18) scale(1.0178 0.89)" fill="#1f62d2">WCWF</text>
<text class="m" transform="translate(413.72 164.18) scale(1.0178 1)" fill="#1f62d2" text-anchor="end">21</text>
<text class="m" transform="translate(460.90 164.18) scale(1.0178 1)" fill="#1f62d2" text-anchor="end">(14.1)</text>
<text class="m" transform="translate(548.52 164.18) scale(1.0178 1)" fill="#1f62d2" text-anchor="end">−11.3</text>
<text class="m" transform="translate(609.18 164.18) scale(1.0178 1)" fill="#1f62d2" text-anchor="end">−102.1</text>
<text class="m" transform="translate(656.36 164.18) scale(1.0178 1)" fill="#1f62d2" text-anchor="end">2Edge</text>
<text class="m" transform="translate(703.54 164.18) scale(1.0178 1)" fill="#1f62d2" text-anchor="end">80.3</text>
<text class="m" transform="translate(743.98 164.18) scale(1.0178 1)" fill="#9810b0" text-anchor="end">289°</text>
<text class="m" transform="translate(791.16 164.18) scale(1.0178 1)" fill="#9810b0" text-anchor="end">(294°)</text>
<rect x="313" y="166.55" width="6.7" height="11.17" fill="#c00000"/>
<text class="m" transform="translate(316.4 175.45) scale(1.0178 0.89)" text-anchor="middle" fill="#fff">C</text>
<text class="m" transform="translate(326.10 175.35) scale(1.0178 0.89)" fill="#1f62d2">WGBA-TV</text>
<text class="m" transform="translate(413.72 175.35) scale(1.0178 1)" fill="#1f62d2" text-anchor="end">41</text>
<text class="m" transform="translate(494.60 175.35) scale(1.0178 0.92)" fill="#1f62d2" text-anchor="end">NBC</text>
<text class="m" transform="translate(548.52 175.35) scale(1.0178 1)" fill="#1f62d2" text-anchor="end">−12.1</text>
<text class="m" transform="translate(609.18 175.35) scale(1.0178 1)" fill="#1f62d2" text-anchor="end">−103.0</text>
<text class="m" transform="translate(656.36 175.35) scale(1.0178 1)" fill="#1f62d2" text-anchor="end">2Edge</text>
<text class="m" transform="translate(703.54 175.35) scale(1.0178 1)" fill="#1f62d2" text-anchor="end">80.8</text>
<text class="m" transform="translate(743.98 175.35) scale(1.0178 1)" fill="#9c10b0" text-anchor="end">291°</text>
<text class="m" transform="translate(791.16 175.35) scale(1.0178 1)" fill="#9c10b0" text-anchor="end">(296°)</text>
<text class="m" transform="translate(326.10 186.52) scale(1.0178 0.89)" fill="#1f62d2">WACY-DT</text>
<text class="m" transform="translate(413.72 186.52) scale(1.0178 1)" fill="#1f62d2" text-anchor="end">27</text>
<text class="m" transform="translate(460.90 186.52) scale(1.0178 1)" fill="#1f62d2" text-anchor="end">(32.1)</text>
<text class="m" transform="translate(494.60 186.52) scale(1.0178 0.92)" fill="#1f62d2" text-anchor="end">MyN</text>
<text class="m" transform="translate(548.52 186.52) scale(1.0178 1)" fill="#1f62d2" text-anchor="end">−13.4</text>
<text class="m" transform="translate(609.18 186.52) scale(1.0178 1)" fill="#1f62d2" text-anchor="end">−104.2</text>
<text class="m" transform="translate(656.36 186.52) scale(1.0178 1)" fill="#1f62d2" text-anchor="end">2Edge</text>
<text class="m" transform="translate(703.54 186.52) scale(1.0178 1)" fill="#1f62d2" text-anchor="end">80.8</text>
<text class="m" transform="translate(743.98 186.52) scale(1.0178 1)" fill="#9c10b0" text-anchor="end">291°</text>
<text class="m" transform="translate(791.16 186.52) scale(1.0178 1)" fill="#9c10b0" text-anchor="end">(296°)</text>
<rect x="313" y="188.89" width="6.7" height="11.17" fill="#c00000"/>
<text class="m" transform="translate(316.4 197.79) scale(1.0178 0.89)" text-anchor="middle" fill="#fff">C</text>
<text class="m" transform="translate(326.10 197.69) scale(1.0178 0.89)" fill="#1f62d2">WGVU-TV</text>
<text class="m" transform="translate(413.72 197.69) scale(1.0178 1)" fill="#1f62d2" text-anchor="end">11</text>
<text class="m" transform="translate(460.90 197.69) scale(1.0178 1)" fill="#1f62d2" text-anchor="end">(35.1)</text>
<text class="m" transform="translate(494.60 197.69) scale(1.0178 0.92)" fill="#1f62d2" text-anchor="end">PBS</text>
<text class="m" transform="translate(548.52 197.69) scale(1.0178 1)" fill="#1f62d2" text-anchor="end">−13.6</text>
<text class="m" transform="translate(609.18 197.69) scale(1.0178 1)" fill="#1f62d2" text-anchor="end">−104.5</text>
<text class="m" transform="translate(656.36 197.69) scale(1.0178 1)" fill="#1f62d2" text-anchor="end">2Edge</text>
<text class="m" transform="translate(703.54 197.69) scale(1.0178 1)" fill="#1f62d2" text-anchor="end">74.4</text>
<text class="m" transform="translate(743.98 197.69) scale(1.0178 1)" fill="#188c68" text-anchor="end">158°</text>
<text class="m" transform="translate(791.16 197.69) scale(1.0178 1)" fill="#188c68" text-anchor="end">(163°)</text>
<rect x="306" y="200.06" width="6.9" height="11.17" fill="#f58080"/>
<text class="m" transform="translate(309.5 208.97) scale(1.0178 0.95)" text-anchor="middle" fill="#fff">a</text>
<rect x="313" y="200.06" width="6.7" height="11.17" fill="#c00000"/>
<text class="m" transform="translate(316.4 208.97) scale(1.0178 0.89)" text-anchor="middle" fill="#fff">C</text>
<text class="m" transform="translate(326.10 208.87) scale(1.0178 0.89)" fill="#1f62d2">WMVS</text>
<text class="m" transform="translate(413.72 208.87) scale(1.0178 1)" fill="#1f62d2" text-anchor="end">8</text>
<text class="m" transform="translate(460.90 208.87) scale(1.0178 1)" fill="#1f62d2" text-anchor="end">(10.1)</text>
<text class="m" transform="translate(494.60 208.87) scale(1.0178 0.92)" fill="#1f62d2" text-anchor="end">PBS</text>
<text class="m" transform="translate(548.52 208.87) scale(1.0178 1)" fill="#1f62d2" text-anchor="end">−14.8</text>
<text class="m" transform="translate(609.18 208.87) scale(1.0178 1)" fill="#1f62d2" text-anchor="end">−105.6</text>
<text class="m" transform="translate(656.36 208.87) scale(1.0178 1)" fill="#1f62d2" text-anchor="end">2Edge</text>
<text class="m" transform="translate(703.54 208.87) scale(1.0178 1)" fill="#1f62d2" text-anchor="end">94.1</text>
<text class="m" transform="translate(743.98 208.87) scale(1.0178 1)" fill="#1818b0" text-anchor="end">231°</text>
<text class="m" transform="translate(791.16 208.87) scale(1.0178 1)" fill="#1818b0" text-anchor="end">(236°)</text>
<text class="m" transform="translate(326.10 220.04) scale(1.0178 0.89)" fill="#1f62d2">WVTV</text>
<text class="m" transform="translate(413.72 220.04) scale(1.0178 1)" fill="#1f62d2" text-anchor="end">18</text>
<text class="m" transform="translate(494.60 220.04) scale(1.0178 0.92)" fill="#1f62d2" text-anchor="end">CW</text>
<text class="m" transform="translate(548.52 220.04) scale(1.0178 1)" fill="#1f62d2" text-anchor="end">−16.1</text>
<text class="m" transform="translate(609.18 220.04) scale(1.0178 1)" fill="#1f62d2" text-anchor="end">−106.9</text>
<text class="m" transform="translate(656.36 220.04) scale(1.0178 1)" fill="#1f62d2" text-anchor="end">Tropo</text>
<text class="m" transform="translate(703.54 220.04) scale(1.0178 1)" fill="#1f62d2" text-anchor="end">94.1</text>
<text class="m" transform="translate(743.98 220.04) scale(1.0178 1)" fill="#1818b0" text-anchor="end">231°</text>
<text class="m" transform="translate(791.16 220.04) scale(1.0178 1)" fill="#1818b0" text-anchor="end">(236°)</text>
<rect x="313" y="222.41" width="6.7" height="11.17" fill="#c00000"/>
<text class="m" transform="translate(316.4 231.31) scale(1.0178 0.89)" text-anchor="middle" fill="#fff">C</text>
<text class="m" transform="translate(326.10 231.21) scale(1.0178 0.89)" fill="#1f62d2">WDJT-DT</text>
<text class="m" transform="translate(413.72 231.21) scale(1.0178 1)" fill="#1f62d2" text-anchor="end">46</text>
<text class="m" transform="translate(460.90 231.21) scale(1.0178 1)" fill="#1f62d2" text-anchor="end">(58.1)</text>
<text class="m" transform="translate(494.60 231.21) scale(1.0178 0.92)" fill="#1f62d2" text-anchor="end">CBS</text>
<text class="m" transform="translate(548.52 231.21) scale(1.0178 1)" fill="#1f62d2" text-anchor="end">−18.0</text>
<text class="m" transform="translate(609.18 231.21) scale(1.0178 1)" fill="#1f62d2" text-anchor="end">−108.8</text>
<text class="m" transform="translate(656.36 231.21) scale(1.0178 1)" fill="#1f62d2" text-anchor="end">Tropo</text>
<text class="m" transform="translate(703.54 231.21) scale(1.0178 1)" fill="#1f62d2" text-anchor="end">94.4</text>
<text class="m" transform="translate(743.98 231.21) scale(1.0178 1)" fill="#1918b0" text-anchor="end">232°</text>
<text class="m" transform="translate(791.16 231.21) scale(1.0178 1)" fill="#1918b0" text-anchor="end">(237°)</text>
<text class="m" transform="translate(326.10 242.38) scale(1.0178 0.89)" fill="#1f62d2">WXMI</text>
<text class="m" transform="translate(413.72 242.38) scale(1.0178 1)" fill="#1f62d2" text-anchor="end">19</text>
<text class="m" transform="translate(460.90 242.38) scale(1.0178 1)" fill="#1f62d2" text-anchor="end">(17.1)</text>
<text class="m" transform="translate(494.60 242.38) scale(1.0178 0.92)" fill="#1f62d2" text-anchor="end">Fox</text>
<text class="m" transform="translate(548.52 242.38) scale(1.0178 1)" fill="#1f62d2" text-anchor="end">−19.1</text>
<text class="m" transform="translate(609.18 242.38) scale(1.0178 1)" fill="#1f62d2" text-anchor="end">−109.9</text>
<text class="m" transform="translate(656.36 242.38) scale(1.0178 1)" fill="#1f62d2" text-anchor="end">Tropo</text>
<text class="m" transform="translate(703.54 242.38) scale(1.0178 1)" fill="#1f62d2" text-anchor="end">99.2</text>
<text class="m" transform="translate(743.98 242.38) scale(1.0178 1)" fill="#13845d" text-anchor="end">152°</text>
<text class="m" transform="translate(791.16 242.38) scale(1.0178 1)" fill="#13845d" text-anchor="end">(157°)</text>
<text class="m" transform="translate(326.10 253.55) scale(1.0178 0.89)" fill="#1f62d2">WITI</text>
<text class="m" transform="translate(413.72 253.55) scale(1.0178 1)" fill="#1f62d2" text-anchor="end">33</text>
<text class="m" transform="translate(460.90 253.55) scale(1.0178 1)" fill="#1f62d2" text-anchor="end">(6.1)</text>
<text class="m" transform="translate(494.60 253.55) scale(1.0178 0.92)" fill="#1f62d2" text-anchor="end">Fox</text>
<text class="m" transform="translate(548.52 253.55) scale(1.0178 1)" fill="#1f62d2" text-anchor="end">−19.5</text>
<text class="m" transform="translate(609.18 253.55) scale(1.0178 1)" fill="#1f62d2" text-anchor="end">−110.4</text>
<text class="m" transform="translate(656.36 253.55) scale(1.0178 1)" fill="#1f62d2" text-anchor="end">Tropo</text>
<text class="m" transform="translate(703.54 253.55) scale(1.0178 1)" fill="#1f62d2" text-anchor="end">94.1</text>
<text class="m" transform="translate(743.98 253.55) scale(1.0178 1)" fill="#1818b0" text-anchor="end">231°</text>
<text class="m" transform="translate(791.16 253.55) scale(1.0178 1)" fill="#1818b0" text-anchor="end">(236°)</text>
<text class="m" transform="translate(326.10 264.72) scale(1.0178 0.89)" fill="#1f62d2">WOOD-DT</text>
<text class="m" transform="translate(413.72 264.72) scale(1.0178 1)" fill="#1f62d2" text-anchor="end">7</text>
<text class="m" transform="translate(460.90 264.72) scale(1.0178 1)" fill="#1f62d2" text-anchor="end">(8.1)</text>
<text class="m" transform="translate(494.60 264.72) scale(1.0178 0.92)" fill="#1f62d2" text-anchor="end">NBC</text>
<text class="m" transform="translate(548.52 264.72) scale(1.0178 1)" fill="#1f62d2" text-anchor="end">−19.9</text>
<text class="m" transform="translate(609.18 264.72) scale(1.0178 1)" fill="#1f62d2" text-anchor="end">−110.7</text>
<text class="m" transform="translate(656.36 264.72) scale(1.0178 1)" fill="#1f62d2" text-anchor="end">Tropo</text>
<text class="m" transform="translate(703.54 264.72) scale(1.0178 1)" fill="#1f62d2" text-anchor="end">99.8</text>
<text class="m" transform="translate(743.98 264.72) scale(1.0178 1)" fill="#12835c" text-anchor="end">151°</text>
<text class="m" transform="translate(791.16 264.72) scale(1.0178 1)" fill="#12835c" text-anchor="end">(156°)</text>
<rect x="313" y="267.09" width="6.7" height="11.17" fill="#c00000"/>
<text class="m" transform="translate(316.4 275.99) scale(1.0178 0.89)" text-anchor="middle" fill="#fff">C</text>
<text class="m" transform="translate(326.10 275.89) scale(1.0178 0.89)" fill="#1f62d2">WGVK-DT</text>
<text class="m" transform="translate(413.72 275.89) scale(1.0178 1)" fill="#1f62d2" text-anchor="end">5</text>
<text class="m" transform="translate(460.90 275.89) scale(1.0178 1)" fill="#1f62d2" text-anchor="end">(52.1)</text>
<text class="m" transform="translate(494.60 275.89) scale(1.0178 0.92)" fill="#1f62d2" text-anchor="end">PBS</text>
<text class="m" transform="translate(548.52 275.89) scale(1.0178 1)" fill="#1f62d2" text-anchor="end">−21.2</text>
<text class="m" transform="translate(609.18 275.89) scale(1.0178 1)" fill="#1f62d2" text-anchor="end">−112.0</text>
<text class="m" transform="translate(656.36 275.89) scale(1.0178 1)" fill="#1f62d2" text-anchor="end">Tropo</text>
<text class="m" transform="translate(703.54 275.89) scale(1.0178 1)" fill="#1f62d2" text-anchor="end">120.9</text>
<text class="m" transform="translate(743.98 275.89) scale(1.0178 1)" fill="#188c6b" text-anchor="end">160°</text>
<text class="m" transform="translate(791.16 275.89) scale(1.0178 1)" fill="#188c6b" text-anchor="end">(165°)</text>
<text class="m" transform="translate(326.10 287.06) scale(1.0178 0.89)" fill="#1f62d2">WTMJ-DT</text>
<text class="m" transform="translate(413.72 287.06) scale(1.0178 1)" fill="#1f62d2" text-anchor="end">28</text>
<text class="m" transform="translate(460.90 287.06) scale(1.0178 1)" fill="#1f62d2" text-anchor="end">(4.1)</text>
<text class="m" transform="translate(494.60 287.06) scale(1.0178 0.92)" fill="#1f62d2" text-anchor="end">NBC</text>
<text class="m" transform="translate(548.52 287.06) scale(1.0178 1)" fill="#1f62d2" text-anchor="end">−21.2</text>
<text class="m" transform="translate(609.18 287.06) scale(1.0178 1)" fill="#1f62d2" text-anchor="end">−112.0</text>
<text class="m" transform="translate(656.36 287.06) scale(1.0178 1)" fill="#1f62d2" text-anchor="end">Tropo</text>
<text class="m" transform="translate(703.54 287.06) scale(1.0178 1)" fill="#1f62d2" text-anchor="end">94.2</text>
<text class="m" transform="translate(743.98 287.06) scale(1.0178 1)" fill="#1818b0" text-anchor="end">231°</text>
<text class="m" transform="translate(791.16 287.06) scale(1.0178 1)" fill="#1818b0" text-anchor="end">(236°)</text>
<rect x="313" y="289.43" width="6.7" height="11.17" fill="#c00000"/>
<text class="m" transform="translate(316.4 298.33) scale(1.0178 0.89)" text-anchor="middle" fill="#fff">C</text>
<text class="m" transform="translate(326.10 298.23) scale(1.0178 0.89)" fill="#1f62d2">WCGV-TV</text>
<text class="m" transform="translate(413.72 298.23) scale(1.0178 1)" fill="#1f62d2" text-anchor="end">25</text>
<text class="m" transform="translate(460.90 298.23) scale(1.0178 1)" fill="#1f62d2" text-anchor="end">(24.1)</text>
<text class="m" transform="translate(494.60 298.23) scale(1.0178 0.92)" fill="#1f62d2" text-anchor="end">MyN</text>
<text class="m" transform="translate(548.52 298.23) scale(1.0178 1)" fill="#1f62d2" text-anchor="end">−21.3</text>
<text class="m" transform="translate(609.18 298.23) scale(1.0178 1)" fill="#1f62d2" text-anchor="end">−112.1</text>
<text class="m" transform="translate(656.36 298.23) scale(1.0178 1)" fill="#1f62d2" text-anchor="end">Tropo</text>
<text class="m" transform="translate(703.54 298.23) scale(1.0178 1)" fill="#1f62d2" text-anchor="end">94.1</text>
<text class="m" transform="translate(743.98 298.23) scale(1.0178 1)" fill="#1818b0" text-anchor="end">231°</text>
<text class="m" transform="translate(791.16 298.23) scale(1.0178 1)" fill="#1818b0" text-anchor="end">(236°)</text>
<rect x="306" y="300.60" width="6.9" height="11.17" fill="#f58080"/>
<text class="m" transform="translate(309.5 309.50) scale(1.0178 0.95)" text-anchor="middle" fill="#fff">a</text>
<rect x="313" y="300.60" width="6.7" height="11.17" fill="#c00000"/>
<text class="m" transform="translate(316.4 309.50) scale(1.0178 0.89)" text-anchor="middle" fill="#fff">C</text>
<text class="m" transform="translate(326.10 309.40) scale(1.0178 0.89)" fill="#1f62d2">WWMT</text>
<text class="m" transform="translate(413.72 309.40) scale(1.0178 1)" fill="#1f62d2" text-anchor="end">8</text>
<text class="m" transform="translate(460.90 309.40) scale(1.0178 1)" fill="#1f62d2" text-anchor="end">(3.1)</text>
<text class="m" transform="translate(494.60 309.40) scale(1.0178 0.92)" fill="#1f62d2" text-anchor="end">CBS</text>
<text class="m" transform="translate(548.52 309.40) scale(1.0178 1)" fill="#1f62d2" text-anchor="end">−21.9</text>
<text class="m" transform="translate(609.18 309.40) scale(1.0178 1)" fill="#1f62d2" text-anchor="end">−112.7</text>
<text class="m" transform="translate(656.36 309.40) scale(1.0178 1)" fill="#1f62d2" text-anchor="end">Tropo</text>
<text class="m" transform="translate(703.54 309.40) scale(1.0178 1)" fill="#1f62d2" text-anchor="end">102.5</text>
<text class="m" transform="translate(743.98 309.40) scale(1.0178 1)" fill="#14855f" text-anchor="end">153°</text>
<text class="m" transform="translate(791.16 309.40) scale(1.0178 1)" fill="#14855f" text-anchor="end">(158°)</text>
<rect x="313" y="311.77" width="6.7" height="11.17" fill="#c00000"/>
<text class="m" transform="translate(316.4 320.68) scale(1.0178 0.89)" text-anchor="middle" fill="#fff">C</text>
<text class="m" transform="translate(326.10 320.57) scale(1.0178 0.89)" fill="#1f62d2">W17DF-D</text>
<text class="m" transform="translate(413.72 320.57) scale(1.0178 1)" fill="#1f62d2" text-anchor="end">17</text>
<text class="m" transform="translate(548.52 320.57) scale(1.0178 1)" fill="#1f62d2" text-anchor="end">−22.0</text>
<text class="m" transform="translate(609.18 320.57) scale(1.0178 1)" fill="#1f62d2" text-anchor="end">−112.9</text>
<text class="m" transform="translate(656.36 320.57) scale(1.0178 1)" fill="#1f62d2" text-anchor="end">2Edge</text>
<text class="m" transform="translate(703.54 320.57) scale(1.0178 1)" fill="#1f62d2" text-anchor="end">46.9</text>
<text class="m" transform="translate(743.98 320.57) scale(1.0178 1)" fill="#188c6c" text-anchor="end">161°</text>
<text class="m" transform="translate(791.16 320.57) scale(1.0178 1)" fill="#188c6c" text-anchor="end">(166°)</text>
<text class="m" transform="translate(326.10 331.75) scale(1.0178 0.89)" fill="#1f62d2">WWRS-TV</text>
<text class="m" transform="translate(413.72 331.75) scale(1.0178 1)" fill="#1f62d2" text-anchor="end">43</text>
<text class="m" transform="translate(460.90 331.75) scale(1.0178 1)" fill="#1f62d2" text-anchor="end">(52.1)</text>
<text class="m" transform="translate(494.60 331.75) scale(1.0178 0.92)" fill="#1f62d2" text-anchor="end">Ind</text>
<text class="m" transform="translate(548.52 331.75) scale(1.0178 1)" fill="#1f62d2" text-anchor="end">−22.1</text>
<text class="m" transform="translate(609.18 331.75) scale(1.0178 1)" fill="#1f62d2" text-anchor="end">−112.9</text>
<text class="m" transform="translate(656.36 331.75) scale(1.0178 1)" fill="#1f62d2" text-anchor="end">Tropo</text>
<text class="m" transform="translate(703.54 331.75) scale(1.0178 1)" fill="#1f62d2" text-anchor="end">109.9</text>
<text class="m" transform="translate(743.98 331.75) scale(1.0178 1)" fill="#2c18a8" text-anchor="end">252°</text>
<text class="m" transform="translate(791.16 331.75) scale(1.0178 1)" fill="#2c18a8" text-anchor="end">(257°)</text>
<rect x="306" y="334.12" width="6.9" height="11.17" fill="#f58080"/>
<text class="m" transform="translate(309.5 343.02) scale(1.0178 0.95)" text-anchor="middle" fill="#fff">a</text>
<rect x="313" y="334.12" width="6.7" height="11.17" fill="#c00000"/>
<text class="m" transform="translate(316.4 343.02) scale(1.0178 0.89)" text-anchor="middle" fill="#fff">C</text>
<text class="m" transform="translate(326.10 342.92) scale(1.0178 0.89)" fill="#1f62d2">WTLJ</text>
<text class="m" transform="translate(413.72 342.92) scale(1.0178 1)" fill="#1f62d2" text-anchor="end">24</text>
<text class="m" transform="translate(460.90 342.92) scale(1.0178 1)" fill="#1f62d2" text-anchor="end">(54.1)</text>
<text class="m" transform="translate(494.60 342.92) scale(1.0178 0.92)" fill="#1f62d2" text-anchor="end">Ind</text>
<text class="m" transform="translate(548.52 342.92) scale(1.0178 1)" fill="#1f62d2" text-anchor="end">−22.1</text>
<text class="m" transform="translate(609.18 342.92) scale(1.0178 1)" fill="#1f62d2" text-anchor="end">−113.0</text>
<text class="m" transform="translate(656.36 342.92) scale(1.0178 1)" fill="#1f62d2" text-anchor="end">2Edge</text>
<text class="m" transform="translate(703.54 342.92) scale(1.0178 1)" fill="#1f62d2" text-anchor="end">74.5</text>
<text class="m" transform="translate(743.98 342.92) scale(1.0178 1)" fill="#188c68" text-anchor="end">158°</text>
<text class="m" transform="translate(791.16 342.92) scale(1.0178 1)" fill="#188c68" text-anchor="end">(163°)</text>
<text class="m" transform="translate(326.10 354.09) scale(1.0178 0.89)" fill="#1f62d2">WISN-TV</text>
<text class="m" transform="translate(413.72 354.09) scale(1.0178 1)" fill="#1f62d2" text-anchor="end">34</text>
<text class="m" transform="translate(494.60 354.09) scale(1.0178 0.92)" fill="#1f62d2" text-anchor="end">ABC</text>
<text class="m" transform="translate(548.52 354.09) scale(1.0178 1)" fill="#1f62d2" text-anchor="end">−22.2</text>
<text class="m" transform="translate(609.18 354.09) scale(1.0178 1)" fill="#1f62d2" text-anchor="end">−113.0</text>
<text class="m" transform="translate(656.36 354.09) scale(1.0178 1)" fill="#1f62d2" text-anchor="end">Tropo</text>
<text class="m" transform="translate(703.54 354.09) scale(1.0178 1)" fill="#1f62d2" text-anchor="end">94.3</text>
<text class="m" transform="translate(743.98 354.09) scale(1.0178 1)" fill="#1918b0" text-anchor="end">232°</text>
<text class="m" transform="translate(791.16 354.09) scale(1.0178 1)" fill="#1918b0" text-anchor="end">(237°)</text>
<rect x="306" y="356.46" width="6.9" height="11.17" fill="#f58080"/>
<text class="m" transform="translate(309.5 365.36) scale(1.0178 0.95)" text-anchor="middle" fill="#fff">a</text>
<rect x="313" y="356.46" width="6.7" height="11.17" fill="#c00000"/>
<text class="m" transform="translate(316.4 365.36) scale(1.0178 0.89)" text-anchor="middle" fill="#fff">C</text>
<text class="m" transform="translate(326.10 365.26) scale(1.0178 0.89)" fill="#1f62d2">WPXE-DT</text>
<text class="m" transform="translate(413.72 365.26) scale(1.0178 1)" fill="#1f62d2" text-anchor="end">40</text>
<text class="m" transform="translate(460.90 365.26) scale(1.0178 1)" fill="#1f62d2" text-anchor="end">(55.1)</text>
<text class="m" transform="translate(494.60 365.26) scale(1.0178 0.92)" fill="#1f62d2" text-anchor="end">ION</text>
<text class="m" transform="translate(548.52 365.26) scale(1.0178 1)" fill="#1f62d2" text-anchor="end">−22.9</text>
<text class="m" transform="translate(609.18 365.26) scale(1.0178 1)" fill="#1f62d2" text-anchor="end">−113.7</text>
<text class="m" transform="translate(656.36 365.26) scale(1.0178 1)" fill="#1f62d2" text-anchor="end">Tropo</text>
<text class="m" transform="translate(703.54 365.26) scale(1.0178 1)" fill="#1f62d2" text-anchor="end">94.1</text>
<text class="m" transform="translate(743.98 365.26) scale(1.0178 1)" fill="#1818b0" text-anchor="end">231°</text>
<text class="m" transform="translate(791.16 365.26) scale(1.0178 1)" fill="#1818b0" text-anchor="end">(236°)</text>
<text class="m" transform="translate(326.10 376.43) scale(1.0178 0.89)" fill="#1f62d2">WMVT</text>
<text class="m" transform="translate(413.72 376.43) scale(1.0178 1)" fill="#1f62d2" text-anchor="end">35</text>
<text class="m" transform="translate(494.60 376.43) scale(1.0178 0.92)" fill="#1f62d2" text-anchor="end">PBS</text>
<text class="m" transform="translate(548.52 376.43) scale(1.0178 1)" fill="#1f62d2" text-anchor="end">−23.1</text>
<text class="m" transform="translate(609.18 376.43) scale(1.0178 1)" fill="#1f62d2" text-anchor="end">−113.9</text>
<text class="m" transform="translate(656.36 376.43) scale(1.0178 1)" fill="#1f62d2" text-anchor="end">Tropo</text>
<text class="m" transform="translate(703.54 376.43) scale(1.0178 1)" fill="#1f62d2" text-anchor="end">94.1</text>
<text class="m" transform="translate(743.98 376.43) scale(1.0178 1)" fill="#1818b0" text-anchor="end">231°</text>
<text class="m" transform="translate(791.16 376.43) scale(1.0178 1)" fill="#1818b0" text-anchor="end">(236°)</text>
<rect x="313" y="378.80" width="6.7" height="11.17" fill="#c00000"/>
<text class="m" transform="translate(316.4 387.70) scale(1.0178 0.89)" text-anchor="middle" fill="#fff">C</text>
<text class="m" transform="translate(326.10 387.60) scale(1.0178 0.89)" fill="#1f62d2">W30BU</text>
<text class="m" transform="translate(413.72 387.60) scale(1.0178 1)" fill="#1f62d2" text-anchor="end">30</text>
<text class="m" transform="translate(460.90 387.60) scale(1.0178 1)" fill="#1f62d2" text-anchor="end">(30.1)</text>
<text class="m" transform="translate(548.52 387.60) scale(1.0178 1)" fill="#1f62d2" text-anchor="end">−23.9</text>
<text class="m" transform="translate(609.18 387.60) scale(1.0178 1)" fill="#1f62d2" text-anchor="end">−114.8</text>
<text class="m" transform="translate(656.36 387.60) scale(1.0178 1)" fill="#1f62d2" text-anchor="end">2Edge</text>
<text class="m" transform="translate(703.54 387.60) scale(1.0178 1)" fill="#1f62d2" text-anchor="end">81.0</text>
<text class="m" transform="translate(743.98 387.60) scale(1.0178 1)" fill="#9c10b0" text-anchor="end">291°</text>
<text class="m" transform="translate(791.16 387.60) scale(1.0178 1)" fill="#9c10b0" text-anchor="end">(296°)</text>
<rect x="313" y="389.97" width="6.7" height="11.17" fill="#c00000"/>
<text class="m" transform="translate(316.4 398.87) scale(1.0178 0.89)" text-anchor="middle" fill="#fff">C</text>
<text class="m" transform="translate(326.10 398.77) scale(1.0178 0.89)" fill="#1f62d2">WIWN</text>
<text class="m" transform="translate(413.72 398.77) scale(1.0178 1)" fill="#1f62d2" text-anchor="end">5</text>
<text class="m" transform="translate(460.90 398.77) scale(1.0178 1)" fill="#1f62d2" text-anchor="end">(68.1)</text>
<text class="m" transform="translate(548.52 398.77) scale(1.0178 1)" fill="#1f62d2" text-anchor="end">−24.4</text>
<text class="m" transform="translate(609.18 398.77) scale(1.0178 1)" fill="#1f62d2" text-anchor="end">−115.2</text>
<text class="m" transform="translate(656.36 398.77) scale(1.0178 1)" fill="#1f62d2" text-anchor="end">2Edge</text>
<text class="m" transform="translate(703.54 398.77) scale(1.0178 1)" fill="#1f62d2" text-anchor="end">94.1</text>
<text class="m" transform="translate(743.98 398.77) scale(1.0178 1)" fill="#1818b0" text-anchor="end">231°</text>
<text class="m" transform="translate(791.16 398.77) scale(1.0178 1)" fill="#1818b0" text-anchor="end">(236°)</text>
<rect x="313" y="401.14" width="6.7" height="11.17" fill="#c00000"/>
<text class="m" transform="translate(316.4 410.04) scale(1.0178 0.89)" text-anchor="middle" fill="#fff">C</text>
<text class="m" transform="translate(326.10 409.94) scale(1.0178 0.89)" fill="#1f62d2">WLNS-TV</text>
<text class="m" transform="translate(413.72 409.94) scale(1.0178 1)" fill="#1f62d2" text-anchor="end">36</text>
<text class="m" transform="translate(460.90 409.94) scale(1.0178 1)" fill="#1f62d2" text-anchor="end">(6.1)</text>
<text class="m" transform="translate(494.60 409.94) scale(1.0178 0.92)" fill="#1f62d2" text-anchor="end">CBS</text>
<text class="m" transform="translate(548.52 409.94) scale(1.0178 1)" fill="#1f62d2" text-anchor="end">−24.5</text>
<text class="m" transform="translate(609.18 409.94) scale(1.0178 1)" fill="#1f62d2" text-anchor="end">−115.3</text>
<text class="m" transform="translate(656.36 409.94) scale(1.0178 1)" fill="#1f62d2" text-anchor="end">Tropo</text>
<text class="m" transform="translate(703.54 409.94) scale(1.0178 1)" fill="#1f62d2" text-anchor="end">136.5</text>
<text class="m" transform="translate(743.98 409.94) scale(1.0178 1)" fill="#1c8c2c" text-anchor="end">129°</text>
<text class="m" transform="translate(791.16 409.94) scale(1.0178 1)" fill="#1c8c2c" text-anchor="end">(134°)</text>
<rect x="306" y="412.31" width="6.9" height="11.17" fill="#f58080"/>
<text class="m" transform="translate(309.5 421.21) scale(1.0178 0.95)" text-anchor="middle" fill="#fff">a</text>
<rect x="313" y="412.31" width="6.7" height="11.17" fill="#c00000"/>
<text class="m" transform="translate(316.4 421.21) scale(1.0178 0.89)" text-anchor="middle" fill="#fff">C</text>
<text class="m" transform="translate(326.10 421.11) scale(1.0178 0.89)" fill="#1f62d2">WNEM-DT</text>
<text class="m" transform="translate(413.72 421.11) scale(1.0178 1)" fill="#1f62d2" text-anchor="end">22</text>
<text class="m" transform="translate(460.90 421.11) scale(1.0178 1)" fill="#1f62d2" text-anchor="end">(5.1)</text>
<text class="m" transform="translate(494.60 421.11) scale(1.0178 0.92)" fill="#1f62d2" text-anchor="end">CBS</text>
<text class="m" transform="translate(548.52 421.11) scale(1.0178 1)" fill="#1f62d2" text-anchor="end">−24.6</text>
<text class="m" transform="translate(609.18 421.11) scale(1.0178 1)" fill="#1f62d2" text-anchor="end">−115.4</text>
<text class="m" transform="translate(656.36 421.11) scale(1.0178 1)" fill="#1f62d2" text-anchor="end">Tropo</text>
<text class="m" transform="translate(703.54 421.11) scale(1.0178 1)" fill="#1f62d2" text-anchor="end">135.0</text>
<text class="m" transform="translate(743.98 421.11) scale(1.0178 1)" fill="#359819" text-anchor="end">104°</text>
<text class="m" transform="translate(791.16 421.11) scale(1.0178 1)" fill="#359819" text-anchor="end">(109°)</text>
<rect x="306" y="423.48" width="6.9" height="11.17" fill="#f58080"/>
<text class="m" transform="translate(309.5 432.38) scale(1.0178 0.95)" text-anchor="middle" fill="#fff">a</text>
<rect x="313" y="423.48" width="6.7" height="11.17" fill="#c00000"/>
<text class="m" transform="translate(316.4 432.38) scale(1.0178 0.89)" text-anchor="middle" fill="#fff">C</text>
<text class="m" transform="translate(326.10 432.28) scale(1.0178 0.89)" fill="#1f62d2">WOTV</text>
<text class="m" transform="translate(413.72 432.28) scale(1.0178 1)" fill="#1f62d2" text-anchor="end">20</text>
<text class="m" transform="translate(460.90 432.28) scale(1.0178 1)" fill="#1f62d2" text-anchor="end">(41.1)</text>
<text class="m" transform="translate(494.60 432.28) scale(1.0178 0.92)" fill="#1f62d2" text-anchor="end">ABC</text>
<text class="m" transform="translate(548.52 432.28) scale(1.0178 1)" fill="#1f62d2" text-anchor="end">−24.8</text>
<text class="m" transform="translate(609.18 432.28) scale(1.0178 1)" fill="#1f62d2" text-anchor="end">−115.6</text>
<text class="m" transform="translate(656.36 432.28) scale(1.0178 1)" fill="#1f62d2" text-anchor="end">Tropo</text>
<text class="m" transform="translate(703.54 432.28) scale(1.0178 1)" fill="#1f62d2" text-anchor="end">107.9</text>
<text class="m" transform="translate(743.98 432.28) scale(1.0178 1)" fill="#13845d" text-anchor="end">152°</text>
<text class="m" transform="translate(791.16 432.28) scale(1.0178 1)" fill="#13845d" text-anchor="end">(157°)</text>
<rect x="313" y="434.66" width="6.7" height="11.17" fill="#c00000"/>
<text class="m" transform="translate(316.4 443.56) scale(1.0178 0.89)" text-anchor="middle" fill="#fff">C</text>
<text class="m" transform="translate(326.10 443.46) scale(1.0178 0.89)" fill="#1f62d2">WCMV-DT</text>
<text class="m" transform="translate(413.72 443.46) scale(1.0178 1)" fill="#1f62d2" text-anchor="end">17</text>
<text class="m" transform="translate(460.90 443.46) scale(1.0178 1)" fill="#1f62d2" text-anchor="end">(27.1)</text>
<text class="m" transform="translate(494.60 443.46) scale(1.0178 0.92)" fill="#1f62d2" text-anchor="end">PBS</text>
<text class="m" transform="translate(548.52 443.46) scale(1.0178 1)" fill="#1f62d2" text-anchor="end">−25.2</text>
<text class="m" transform="translate(609.18 443.46) scale(1.0178 1)" fill="#1f62d2" text-anchor="end">−116.0</text>
<text class="m" transform="translate(656.36 443.46) scale(1.0178 1)" fill="#1f62d2" text-anchor="end">Tropo</text>
<text class="m" transform="translate(703.54 443.46) scale(1.0178 1)" fill="#1f62d2" text-anchor="end">87.6</text>
<text class="m" transform="translate(743.98 443.46) scale(1.0178 1)" fill="#d08820" text-anchor="end">51°</text>
<text class="m" transform="translate(791.16 443.46) scale(1.0178 1)" fill="#d08820" text-anchor="end">(56°)</text>
<rect x="313" y="445.83" width="6.7" height="11.17" fill="#c00000"/>
<text class="m" transform="translate(316.4 454.73) scale(1.0178 0.89)" text-anchor="middle" fill="#fff">C</text>
<text class="m" transform="translate(326.10 454.63) scale(1.0178 0.89)" fill="#1f62d2">WPBN-TV</text>
<text class="m" transform="translate(413.72 454.63) scale(1.0178 1)" fill="#1f62d2" text-anchor="end">47</text>
<text class="m" transform="translate(494.60 454.63) scale(1.0178 0.92)" fill="#1f62d2" text-anchor="end">NBC</text>
<text class="m" transform="translate(548.52 454.63) scale(1.0178 1)" fill="#1f62d2" text-anchor="end">−25.8</text>
<text class="m" transform="translate(609.18 454.63) scale(1.0178 1)" fill="#1f62d2" text-anchor="end">−116.6</text>
<text class="m" transform="translate(656.36 454.63) scale(1.0178 1)" fill="#1f62d2" text-anchor="end">Tropo</text>
<text class="m" transform="translate(703.54 454.63) scale(1.0178 1)" fill="#1f62d2" text-anchor="end">87.6</text>
<text class="m" transform="translate(743.98 454.63) scale(1.0178 1)" fill="#d08820" text-anchor="end">51°</text>
<text class="m" transform="translate(791.16 454.63) scale(1.0178 1)" fill="#d08820" text-anchor="end">(56°)</text>
<rect x="306" y="457.00" width="6.9" height="11.17" fill="#f58080"/>
<text class="m" transform="translate(309.5 465.90) scale(1.0178 0.95)" text-anchor="middle" fill="#fff">a</text>
<rect x="313" y="457.00" width="6.7" height="11.17" fill="#c00000"/>
<text class="m" transform="translate(316.4 465.90) scale(1.0178 0.89)" text-anchor="middle" fill="#fff">C</text>
<text class="m" transform="translate(326.10 465.80) scale(1.0178 0.89)" fill="#1f62d2">WILX-TV</text>
<text class="m" transform="translate(413.72 465.80) scale(1.0178 1)" fill="#1f62d2" text-anchor="end">10</text>
<text class="m" transform="translate(460.90 465.80) scale(1.0178 1)" fill="#1f62d2" text-anchor="end">(10.1)</text>
<text class="m" transform="translate(494.60 465.80) scale(1.0178 0.92)" fill="#1f62d2" text-anchor="end">NBC</text>
<text class="m" transform="translate(548.52 465.80) scale(1.0178 1)" fill="#1f62d2" text-anchor="end">−26.6</text>
<text class="m" transform="translate(609.18 465.80) scale(1.0178 1)" fill="#1f62d2" text-anchor="end">−117.4</text>
<text class="m" transform="translate(656.36 465.80) scale(1.0178 1)" fill="#1f62d2" text-anchor="end">Tropo</text>
<text class="m" transform="translate(703.54 465.80) scale(1.0178 1)" fill="#1f62d2" text-anchor="end">141.3</text>
<text class="m" transform="translate(743.98 465.80) scale(1.0178 1)" fill="#188838" text-anchor="end">137°</text>
<text class="m" transform="translate(791.16 465.80) scale(1.0178 1)" fill="#188838" text-anchor="end">(142°)</text>
<rect x="306" y="468.17" width="6.9" height="11.17" fill="#f58080"/>
<text class="m" transform="translate(309.5 477.07) scale(1.0178 0.95)" text-anchor="middle" fill="#fff">a</text>
<text class="m" transform="translate(326.10 476.97) scale(1.0178 0.89)" fill="#1f62d2">WLAJ-DT</text>
<text class="m" transform="translate(413.72 476.97) scale(1.0178 1)" fill="#1f62d2" text-anchor="end">51</text>
<text class="m" transform="translate(460.90 476.97) scale(1.0178 1)" fill="#1f62d2" text-anchor="end">(53.1)</text>
<text class="m" transform="translate(494.60 476.97) scale(1.0178 0.92)" fill="#1f62d2" text-anchor="end">ABC</text>
<text class="m" transform="translate(548.52 476.97) scale(1.0178 1)" fill="#1f62d2" text-anchor="end">−26.7</text>
<text class="m" transform="translate(609.18 476.97) scale(1.0178 1)" fill="#1f62d2" text-anchor="end">−117.6</text>
<text class="m" transform="translate(656.36 476.97) scale(1.0178 1)" fill="#1f62d2" text-anchor="end">Tropo</text>
<text class="m" transform="translate(703.54 476.97) scale(1.0178 1)" fill="#1f62d2" text-anchor="end">144.1</text>
<text class="m" transform="translate(743.98 476.97) scale(1.0178 1)" fill="#188838" text-anchor="end">137°</text>
<text class="m" transform="translate(791.16 476.97) scale(1.0178 1)" fill="#188838" text-anchor="end">(142°)</text>
<rect x="313" y="479.34" width="6.7" height="11.17" fill="#c00000"/>
<text class="m" transform="translate(316.4 488.24) scale(1.0178 0.89)" text-anchor="middle" fill="#fff">C</text>
<text class="m" transform="translate(326.10 488.14) scale(1.0178 0.89)" fill="#1f62d2">WLLA-DT</text>
<text class="m" transform="translate(413.72 488.14) scale(1.0178 1)" fill="#1f62d2" text-anchor="end">45</text>
<text class="m" transform="translate(460.90 488.14) scale(1.0178 1)" fill="#1f62d2" text-anchor="end">(64.1)</text>
<text class="m" transform="translate(494.60 488.14) scale(1.0178 0.92)" fill="#1f62d2" text-anchor="end">Ind</text>
<text class="m" transform="translate(548.52 488.14) scale(1.0178 1)" fill="#1f62d2" text-anchor="end">−27.3</text>
<text class="m" transform="translate(609.18 488.14) scale(1.0178 1)" fill="#1f62d2" text-anchor="end">−118.2</text>
<text class="m" transform="translate(656.36 488.14) scale(1.0178 1)" fill="#1f62d2" text-anchor="end">Tropo</text>
<text class="m" transform="translate(703.54 488.14) scale(1.0178 1)" fill="#1f62d2" text-anchor="end">108.5</text>
<text class="m" transform="translate(743.98 488.14) scale(1.0178 1)" fill="#13845d" text-anchor="end">152°</text>
<text class="m" transform="translate(791.16 488.14) scale(1.0178 1)" fill="#13845d" text-anchor="end">(157°)</text>
<rect x="313" y="490.51" width="6.7" height="11.17" fill="#c00000"/>
<text class="m" transform="translate(316.4 499.41) scale(1.0178 0.89)" text-anchor="middle" fill="#fff">C</text>
<text class="m" transform="translate(326.10 499.31) scale(1.0178 0.89)" fill="#1f62d2">WAQP-DT</text>
<text class="m" transform="translate(413.72 499.31) scale(1.0178 1)" fill="#1f62d2" text-anchor="end">48</text>
<text class="m" transform="translate(460.90 499.31) scale(1.0178 1)" fill="#1f62d2" text-anchor="end">(49.1)</text>
<text class="m" transform="translate(494.60 499.31) scale(1.0178 0.92)" fill="#1f62d2" text-anchor="end">Ind</text>
<text class="m" transform="translate(548.52 499.31) scale(1.0178 1)" fill="#1f62d2" text-anchor="end">−27.4</text>
<text class="m" transform="translate(609.18 499.31) scale(1.0178 1)" fill="#1f62d2" text-anchor="end">−118.3</text>
<text class="m" transform="translate(656.36 499.31) scale(1.0178 1)" fill="#1f62d2" text-anchor="end">Tropo</text>
<text class="m" transform="translate(703.54 499.31) scale(1.0178 1)" fill="#1f62d2" text-anchor="end">130.7</text>
<text class="m" transform="translate(743.98 499.31) scale(1.0178 1)" fill="#28961e" text-anchor="end">112°</text>
<text class="m" transform="translate(791.16 499.31) scale(1.0178 1)" fill="#28961e" text-anchor="end">(117°)</text>
<text class="m" transform="translate(326.10 510.48) scale(1.0178 0.89)" fill="#1f62d2">WZPX-DT</text>
<text class="m" transform="translate(413.72 510.48) scale(1.0178 1)" fill="#1f62d2" text-anchor="end">44</text>
<text class="m" transform="translate(460.90 510.48) scale(1.0178 1)" fill="#1f62d2" text-anchor="end">(43.1)</text>
<text class="m" transform="translate(494.60 510.48) scale(1.0178 0.92)" fill="#1f62d2" text-anchor="end">ION</text>
<text class="m" transform="translate(548.52 510.48) scale(1.0178 1)" fill="#1f62d2" text-anchor="end">−27.9</text>
<text class="m" transform="translate(609.18 510.48) scale(1.0178 1)" fill="#1f62d2" text-anchor="end">−118.7</text>
<text class="m" transform="translate(656.36 510.48) scale(1.0178 1)" fill="#1f62d2" text-anchor="end">Tropo</text>
<text class="m" transform="translate(703.54 510.48) scale(1.0178 1)" fill="#1f62d2" text-anchor="end">112.6</text>
<text class="m" transform="translate(743.98 510.48) scale(1.0178 1)" fill="#158543" text-anchor="end">141°</text>
<text class="m" transform="translate(791.16 510.48) scale(1.0178 1)" fill="#158543" text-anchor="end">(146°)</text>
<rect x="313" y="512.85" width="6.7" height="11.17" fill="#c00000"/>
<text class="m" transform="translate(316.4 521.75) scale(1.0178 0.89)" text-anchor="middle" fill="#fff">C</text>
<text class="m" transform="translate(326.10 521.65) scale(1.0178 0.89)" fill="#1f62d2">WYTU-LD</text>
<text class="m" transform="translate(413.72 521.65) scale(1.0178 1)" fill="#1f62d2" text-anchor="end">17</text>
<text class="m" transform="translate(548.52 521.65) scale(1.0178 1)" fill="#1f62d2" text-anchor="end">−28.0</text>
<text class="m" transform="translate(609.18 521.65) scale(1.0178 1)" fill="#1f62d2" text-anchor="end">−118.9</text>
<text class="m" transform="translate(656.36 521.65) scale(1.0178 1)" fill="#1f62d2" text-anchor="end">Tropo</text>
<text class="m" transform="translate(703.54 521.65) scale(1.0178 1)" fill="#1f62d2" text-anchor="end">94.4</text>
<text class="m" transform="translate(743.98 521.65) scale(1.0178 1)" fill="#1918b0" text-anchor="end">232°</text>
<text class="m" transform="translate(791.16 521.65) scale(1.0178 1)" fill="#1918b0" text-anchor="end">(237°)</text>
<rect x="306" y="524.02" width="6.9" height="11.17" fill="#f58080"/>
<text class="m" transform="translate(309.5 532.92) scale(1.0178 0.95)" text-anchor="middle" fill="#fff">a</text>
<rect x="313" y="524.02" width="6.7" height="11.17" fill="#c00000"/>
<text class="m" transform="translate(316.4 532.92) scale(1.0178 0.89)" text-anchor="middle" fill="#fff">C</text>
<text class="m" transform="translate(326.10 532.82) scale(1.0178 0.89)" fill="#1f62d2">WVCY-DT</text>
<text class="m" transform="translate(413.72 532.82) scale(1.0178 1)" fill="#1f62d2" text-anchor="end">22</text>
<text class="m" transform="translate(460.90 532.82) scale(1.0178 1)" fill="#1f62d2" text-anchor="end">(30.1)</text>
<text class="m" transform="translate(494.60 532.82) scale(1.0178 0.92)" fill="#1f62d2" text-anchor="end">Ind</text>
<text class="m" transform="translate(548.52 532.82) scale(1.0178 1)" fill="#1f62d2" text-anchor="end">−28.1</text>
<text class="m" transform="translate(609.18 532.82) scale(1.0178 1)" fill="#1f62d2" text-anchor="end">−119.0</text>
<text class="m" transform="translate(656.36 532.82) scale(1.0178 1)" fill="#1f62d2" text-anchor="end">Tropo</text>
<text class="m" transform="translate(703.54 532.82) scale(1.0178 1)" fill="#1f62d2" text-anchor="end">94.1</text>
<text class="m" transform="translate(743.98 532.82) scale(1.0178 1)" fill="#1818b0" text-anchor="end">231°</text>
<text class="m" transform="translate(791.16 532.82) scale(1.0178 1)" fill="#1818b0" text-anchor="end">(236°)</text>
<rect x="313" y="535.19" width="6.7" height="11.17" fill="#c00000"/>
<text class="m" transform="translate(316.4 544.10) scale(1.0178 0.89)" text-anchor="middle" fill="#fff">C</text>
<text class="m" transform="translate(326.10 544.00) scale(1.0178 0.89)" fill="#1f62d2">WMLW-TV</text>
<text class="m" transform="translate(413.72 544.00) scale(1.0178 1)" fill="#1f62d2" text-anchor="end">48</text>
<text class="m" transform="translate(460.90 544.00) scale(1.0178 1)" fill="#1f62d2" text-anchor="end">(49.1)</text>
<text class="m" transform="translate(494.60 544.00) scale(1.0178 0.92)" fill="#1f62d2" text-anchor="end">CBS</text>
<text class="m" transform="translate(548.52 544.00) scale(1.0178 1)" fill="#1f62d2" text-anchor="end">−28.5</text>
<text class="m" transform="translate(609.18 544.00) scale(1.0178 1)" fill="#1f62d2" text-anchor="end">−119.4</text>
<text class="m" transform="translate(656.36 544.00) scale(1.0178 1)" fill="#1f62d2" text-anchor="end">Tropo</text>
<text class="m" transform="translate(703.54 544.00) scale(1.0178 1)" fill="#1f62d2" text-anchor="end">94.4</text>
<text class="m" transform="translate(743.98 544.00) scale(1.0178 1)" fill="#1918b0" text-anchor="end">232°</text>
<text class="m" transform="translate(791.16 544.00) scale(1.0178 1)" fill="#1918b0" text-anchor="end">(237°)</text>
<rect x="306" y="546.37" width="6.9" height="11.17" fill="#f58080"/>
<text class="m" transform="translate(309.5 555.27) scale(1.0178 0.95)" text-anchor="middle" fill="#fff">a</text>
<rect x="313" y="546.37" width="6.7" height="11.17" fill="#c00000"/>
<text class="m" transform="translate(316.4 555.27) scale(1.0178 0.89)" text-anchor="middle" fill="#fff">C</text>
<text class="m" transform="translate(326.10 555.17) scale(1.0178 0.89)" fill="#1f62d2">WKAR-TV</text>
<text class="m" transform="translate(413.72 555.17) scale(1.0178 1)" fill="#1f62d2" text-anchor="end">40</text>
<text class="m" transform="translate(460.90 555.17) scale(1.0178 1)" fill="#1f62d2" text-anchor="end">(23.1)</text>
<text class="m" transform="translate(494.60 555.17) scale(1.0178 0.92)" fill="#1f62d2" text-anchor="end">PBS</text>
<text class="m" transform="translate(548.52 555.17) scale(1.0178 1)" fill="#1f62d2" text-anchor="end">−28.6</text>
<text class="m" transform="translate(609.18 555.17) scale(1.0178 1)" fill="#1f62d2" text-anchor="end">−119.4</text>
<text class="m" transform="translate(656.36 555.17) scale(1.0178 1)" fill="#1f62d2" text-anchor="end">Tropo</text>
<text class="m" transform="translate(703.54 555.17) scale(1.0178 1)" fill="#1f62d2" text-anchor="end">134.5</text>
<text class="m" transform="translate(743.98 555.17) scale(1.0178 1)" fill="#1c8c2c" text-anchor="end">129°</text>
<text class="m" transform="translate(791.16 555.17) scale(1.0178 1)" fill="#1c8c2c" text-anchor="end">(135°)</text>
<rect x="306" y="557.54" width="6.9" height="11.17" fill="#f58080"/>
<text class="m" transform="translate(309.5 566.44) scale(1.0178 0.95)" text-anchor="middle" fill="#fff">a</text>
<rect x="313" y="557.54" width="6.7" height="11.17" fill="#c00000"/>
<text class="m" transform="translate(316.4 566.44) scale(1.0178 0.89)" text-anchor="middle" fill="#fff">C</text>
<text class="m" transform="translate(326.10 566.34) scale(1.0178 0.89)" fill="#1f62d2">WGBD-LD</text>
<text class="m" transform="translate(413.72 566.34) scale(1.0178 1)" fill="#1f62d2" text-anchor="end">49</text>
<text class="m" transform="translate(460.90 566.34) scale(1.0178 1)" fill="#1f62d2" text-anchor="end">(49.1)</text>
<text class="m" transform="translate(548.52 566.34) scale(1.0178 1)" fill="#1f62d2" text-anchor="end">−28.6</text>
<text class="m" transform="translate(609.18 566.34) scale(1.0178 1)" fill="#1f62d2" text-anchor="end">−119.4</text>
<text class="m" transform="translate(656.36 566.34) scale(1.0178 1)" fill="#1f62d2" text-anchor="end">2Edge</text>
<text class="m" transform="translate(703.54 566.34) scale(1.0178 1)" fill="#1f62d2" text-anchor="end">82.5</text>
<text class="m" transform="translate(743.98 566.34) scale(1.0178 1)" fill="#a010b0" text-anchor="end">293°</text>
<text class="m" transform="translate(791.16 566.34) scale(1.0178 1)" fill="#a010b0" text-anchor="end">(298°)</text>
<rect x="306" y="568.71" width="6.9" height="11.17" fill="#f58080"/>
<text class="m" transform="translate(309.5 577.61) scale(1.0178 0.95)" text-anchor="middle" fill="#fff">a</text>
<rect x="313" y="568.71" width="6.7" height="11.17" fill="#c00000"/>
<text class="m" transform="translate(316.4 577.61) scale(1.0178 0.89)" text-anchor="middle" fill="#fff">C</text>
<text class="m" transform="translate(326.10 577.51) scale(1.0178 0.89)" fill="#1f62d2">WBME-CD</text>
<text class="m" transform="translate(413.72 577.51) scale(1.0178 1)" fill="#1f62d2" text-anchor="end">24</text>
<text class="m" transform="translate(460.90 577.51) scale(1.0178 1)" fill="#1f62d2" text-anchor="end">(24.1)</text>
<text class="m" transform="translate(548.52 577.51) scale(1.0178 1)" fill="#1f62d2" text-anchor="end">−28.8</text>
<text class="m" transform="translate(609.18 577.51) scale(1.0178 1)" fill="#1f62d2" text-anchor="end">−119.7</text>
<text class="m" transform="translate(656.36 577.51) scale(1.0178 1)" fill="#1f62d2" text-anchor="end">Tropo</text>
<text class="m" transform="translate(703.54 577.51) scale(1.0178 1)" fill="#1f62d2" text-anchor="end">94.4</text>
<text class="m" transform="translate(743.98 577.51) scale(1.0178 1)" fill="#1918b0" text-anchor="end">232°</text>
<text class="m" transform="translate(791.16 577.51) scale(1.0178 1)" fill="#1918b0" text-anchor="end">(237°)</text>
<rect x="306" y="579.88" width="6.9" height="11.17" fill="#f58080"/>
<text class="m" transform="translate(309.5 588.78) scale(1.0178 0.95)" text-anchor="middle" fill="#fff">a</text>
<rect x="313" y="579.88" width="6.7" height="11.17" fill="#c00000"/>
<text class="m" transform="translate(316.4 588.78) scale(1.0178 0.89)" text-anchor="middle" fill="#fff">C</text>
<text class="m" transform="translate(326.10 588.68) scale(1.0178 0.89)" fill="#1f62d2">WJRT-TV</text>
<text class="m" transform="translate(413.72 588.68) scale(1.0178 1)" fill="#1f62d2" text-anchor="end">12</text>
<text class="m" transform="translate(460.90 588.68) scale(1.0178 1)" fill="#1f62d2" text-anchor="end">(12.1)</text>
<text class="m" transform="translate(494.60 588.68) scale(1.0178 0.92)" fill="#1f62d2" text-anchor="end">ABC</text>
<text class="m" transform="translate(548.52 588.68) scale(1.0178 1)" fill="#1f62d2" text-anchor="end">−30.9</text>
<text class="m" transform="translate(609.18 588.68) scale(1.0178 1)" fill="#1f62d2" text-anchor="end">−121.8</text>
<text class="m" transform="translate(656.36 588.68) scale(1.0178 1)" fill="#1f62d2" text-anchor="end">Tropo</text>
<text class="m" transform="translate(703.54 588.68) scale(1.0178 1)" fill="#1f62d2" text-anchor="end">130.2</text>
<text class="m" transform="translate(743.98 588.68) scale(1.0178 1)" fill="#28961e" text-anchor="end">112°</text>
<text class="m" transform="translate(791.16 588.68) scale(1.0178 1)" fill="#28961e" text-anchor="end">(117°)</text>
<rect x="313" y="591.05" width="6.7" height="11.17" fill="#c00000"/>
<text class="m" transform="translate(316.4 599.95) scale(1.0178 0.89)" text-anchor="middle" fill="#fff">C</text>
<text class="m" transform="translate(326.10 599.85) scale(1.0178 0.89)" fill="#1f62d2">WXSP-CD</text>
<text class="m" transform="translate(413.72 599.85) scale(1.0178 1)" fill="#1f62d2" text-anchor="end">15</text>
<text class="m" transform="translate(548.52 599.85) scale(1.0178 1)" fill="#1f62d2" text-anchor="end">−31.3</text>
<text class="m" transform="translate(609.18 599.85) scale(1.0178 1)" fill="#1f62d2" text-anchor="end">−122.1</text>
<text class="m" transform="translate(656.36 599.85) scale(1.0178 1)" fill="#1f62d2" text-anchor="end">Tropo</text>
<text class="m" transform="translate(703.54 599.85) scale(1.0178 1)" fill="#1f62d2" text-anchor="end">74.2</text>
<text class="m" transform="translate(743.98 599.85) scale(1.0178 1)" fill="#12835c" text-anchor="end">151°</text>
<text class="m" transform="translate(791.16 599.85) scale(1.0178 1)" fill="#12835c" text-anchor="end">(156°)</text>
<rect x="347" y="617.5" width="6.8" height="11.2" fill="#c00000"/>
<text class="m" transform="translate(350.3 627.3) scale(1.0178 0.89)" text-anchor="middle" fill="#fff">C</text>
<text class="v" x="361" y="627.6" font-size="11.3" fill="#111" textLength="123" lengthAdjust="spacingAndGlyphs">= Co-channel warning</text>
<rect x="557.4" y="617.5" width="7" height="11.2" fill="#f27f7f"/>
<text class="m" transform="translate(560.9 627.3) scale(1.0178 0.95)" text-anchor="middle" fill="#fff">a</text>
<text class="v" x="572.4" y="627.6" font-size="11.3" fill="#111" textLength="156.4" lengthAdjust="spacingAndGlyphs">= Adjacent channel warning</text>
<rect x="38.8" y="637" width="10.8" height="123.2" fill="#e6e6e6"/>
<rect x="70.2" y="637" width="30.4" height="123.2" fill="#e6e6e6"/>
<path d="M9 645.50H173 M216 645.50H792 M9 657.50H173 M216 657.50H792 M9 670.50H173 M216 670.50H792 M9 683.50H173 M216 683.50H792 M9 696.50H173 M216 696.50H792 M9 708.50H173 M216 708.50H792 M9 721.50H173 M216 721.50H792 M9 734.50H173 M216 734.50H792 M9 747.50H173 M216 747.50H792" stroke="#555" stroke-width="1" stroke-dasharray="1 1" fill="none" shape-rendering="crispEdges"/>
<path d="M7.4 760.2 V632.8 H13.5 M173.8 632.8 V760.2 M65.8 632.8 H110.7 M161.8 632.8 H174.5 M7.4 760.2 H173.8" stroke="#111" stroke-width="1.5" fill="none"/>
<path d="M214.3 760.2 V632.8 H482 M524 632.8 H792.5 V760.2 M214.3 760.2 H792.5" stroke="#111" stroke-width="1.5" fill="none"/>
<text class="s" x="39.5" y="636" text-anchor="middle" font-size="11.3" font-weight="bold" fill="#111">VHF Lo</text>
<text class="s" x="137.7" y="636" text-anchor="middle" font-size="11.3" font-weight="bold" fill="#111">VHF Hi</text>
<text class="s" x="492.6" y="636.1" font-size="11.4" font-weight="bold" fill="#111" textLength="21.6" lengthAdjust="spacingAndGlyphs">UHF</text>
<text class="s" x="194" y="635.8" text-anchor="middle" font-size="11.4" fill="#111">dBm</text>
<text class="s" x="194" y="648.50" text-anchor="middle" font-size="11.4" fill="#111">-10</text>
<text class="s" x="194" y="661.25" text-anchor="middle" font-size="11.4" fill="#111">-20</text>
<text class="s" x="194" y="674.00" text-anchor="middle" font-size="11.4" fill="#111">-30</text>
<text class="s" x="194" y="686.75" text-anchor="middle" font-size="11.4" fill="#111">-40</text>
<text class="s" x="194" y="699.50" text-anchor="middle" font-size="11.4" fill="#111">-50</text>
<text class="s" x="194" y="712.25" text-anchor="middle" font-size="11.4" fill="#111">-60</text>
<text class="s" x="194" y="725.00" text-anchor="middle" font-size="11.4" fill="#111">-70</text>
<text class="s" x="194" y="737.75" text-anchor="middle" font-size="11.4" fill="#111">-80</text>
<text class="s" x="194" y="750.50" text-anchor="middle" font-size="11.4" fill="#111">-90</text>
<text class="s" x="194" y="762.3" text-anchor="middle" font-size="9.6" fill="#111">Channel</text>
<rect x="9.58" y="756" width="6.45" height="7" fill="#fff"/>
<text class="s" x="12.80" y="762.1" text-anchor="middle" font-size="7.2" fill="#222">2</text>
<rect x="30.54" y="756" width="6.45" height="7" fill="#fff"/>
<text class="s" x="33.76" y="762.1" text-anchor="middle" font-size="7.2" fill="#222">4</text>
<rect x="51.77" y="756" width="6.45" height="7" fill="#fff"/>
<text class="s" x="55.00" y="762.1" text-anchor="middle" font-size="7.2" fill="#222">5</text>
<rect x="61.87" y="756" width="6.45" height="7" fill="#fff"/>
<text class="s" x="65.10" y="762.1" text-anchor="middle" font-size="7.2" fill="#222">6</text>
<rect x="103.08" y="756" width="6.45" height="7" fill="#fff"/>
<text class="s" x="106.30" y="762.1" text-anchor="middle" font-size="7.2" fill="#222">7</text>
<rect x="123.53" y="756" width="6.45" height="7" fill="#fff"/>
<text class="s" x="126.76" y="762.1" text-anchor="middle" font-size="7.2" fill="#222">9</text>
<rect x="141.59" y="756" width="11.25" height="7" fill="#fff"/>
<text class="s" x="147.22" y="762.1" text-anchor="middle" font-size="7.2" fill="#222">11</text>
<rect x="162.06" y="756" width="11.25" height="7" fill="#fff"/>
<text class="s" x="167.68" y="762.1" text-anchor="middle" font-size="7.2" fill="#222">13</text>
<rect x="214.22" y="756" width="11.25" height="7" fill="#fff"/>
<text class="s" x="219.85" y="762.1" text-anchor="middle" font-size="7.2" fill="#222">14</text>
<rect x="234.81" y="756" width="11.25" height="7" fill="#fff"/>
<text class="s" x="240.44" y="762.1" text-anchor="middle" font-size="7.2" fill="#222">16</text>
<rect x="265.70" y="756" width="11.25" height="7" fill="#fff"/>
<text class="s" x="271.32" y="762.1" text-anchor="middle" font-size="7.2" fill="#222">19</text>
<rect x="296.58" y="756" width="11.25" height="7" fill="#fff"/>
<text class="s" x="302.21" y="762.1" text-anchor="middle" font-size="7.2" fill="#222">22</text>
<rect x="327.47" y="756" width="11.25" height="7" fill="#fff"/>
<text class="s" x="333.10" y="762.1" text-anchor="middle" font-size="7.2" fill="#222">25</text>
<rect x="358.36" y="756" width="11.25" height="7" fill="#fff"/>
<text class="s" x="363.98" y="762.1" text-anchor="middle" font-size="7.2" fill="#222">28</text>
<rect x="389.24" y="756" width="11.25" height="7" fill="#fff"/>
<text class="s" x="394.87" y="762.1" text-anchor="middle" font-size="7.2" fill="#222">31</text>
<rect x="420.12" y="756" width="11.25" height="7" fill="#fff"/>
<text class="s" x="425.75" y="762.1" text-anchor="middle" font-size="7.2" fill="#222">34</text>
<rect x="451.01" y="756" width="11.25" height="7" fill="#fff"/>
<text class="s" x="456.63" y="762.1" text-anchor="middle" font-size="7.2" fill="#222">37</text>
<rect x="481.89" y="756" width="11.25" height="7" fill="#fff"/>
<text class="s" x="487.52" y="762.1" text-anchor="middle" font-size="7.2" fill="#222">40</text>
<rect x="512.78" y="756" width="11.25" height="7" fill="#fff"/>
<text class="s" x="518.40" y="762.1" text-anchor="middle" font-size="7.2" fill="#222">43</text>
<rect x="543.66" y="756" width="11.25" height="7" fill="#fff"/>
<text class="s" x="549.29" y="762.1" text-anchor="middle" font-size="7.2" fill="#222">46</text>
<rect x="574.55" y="756" width="11.25" height="7" fill="#fff"/>
<text class="s" x="580.17" y="762.1" text-anchor="middle" font-size="7.2" fill="#222">49</text>
<rect x="605.43" y="756" width="11.25" height="7" fill="#fff"/>
<text class="s" x="611.06" y="762.1" text-anchor="middle" font-size="7.2" fill="#222">52</text>
<rect x="636.32" y="756" width="11.25" height="7" fill="#fff"/>
<text class="s" x="641.94" y="762.1" text-anchor="middle" font-size="7.2" fill="#222">55</text>
<rect x="667.21" y="756" width="11.25" height="7" fill="#fff"/>
<text class="s" x="672.83" y="762.1" text-anchor="middle" font-size="7.2" fill="#222">58</text>
<rect x="698.09" y="756" width="11.25" height="7" fill="#fff"/>
<text class="s" x="703.72" y="762.1" text-anchor="middle" font-size="7.2" fill="#222">61</text>
<rect x="728.98" y="756" width="11.25" height="7" fill="#fff"/>
<text class="s" x="734.60" y="762.1" text-anchor="middle" font-size="7.2" fill="#222">64</text>
<rect x="759.86" y="756" width="11.25" height="7" fill="#fff"/>
<text class="s" x="765.49" y="762.1" text-anchor="middle" font-size="7.2" fill="#222">67</text>
<rect x="780.45" y="756" width="11.25" height="7" fill="#fff"/>
<text class="s" x="786.08" y="762.1" text-anchor="middle" font-size="7.2" fill="#222">69</text>
<g><rect x="120.46" y="725.78" width="12.6" height="6.0" rx="3" fill="#f4ee00"/><rect x="122.06" y="727.28" width="9.4" height="3" rx="0.8" fill="#0c4fc4"/><text class="m" transform="translate(130.16 724.28) rotate(-90) scale(1.0178 0.88)" fill="#1f62d2" stroke="#fff" stroke-width="1.6" stroke-opacity="0.8" paint-order="stroke">WWTV</text></g>
<g opacity="0.5"><rect x="140.92" y="740.45" width="12.6" height="6.0" rx="3" fill="#f4ee00"/><rect x="142.52" y="741.95" width="9.4" height="3" rx="0.8" fill="#0c4fc4"/><text class="m" transform="translate(150.62 738.95) rotate(-90) scale(1.0178 0.88)" fill="#1f62d2" stroke="#fff" stroke-width="1.6" stroke-opacity="0.8" paint-order="stroke">WLUK-TV</text></g>
<g><rect x="161.38" y="734.07" width="12.6" height="6.0" rx="3" fill="#f4ee00"/><rect x="162.98" y="735.57" width="9.4" height="3" rx="0.8" fill="#0c4fc4"/><text class="m" transform="translate(171.08 732.57) rotate(-90) scale(1.0178 0.88)" fill="#1f62d2" stroke="#fff" stroke-width="1.6" stroke-opacity="0.8" paint-order="stroke">WZZM</text></g>
<g><rect x="287.51" y="687.20" width="8.8" height="3.1" rx="0.9" fill="#0c4fc4"/><text class="m" transform="translate(295.31 684.25) rotate(-90) scale(1.0178 0.88)" fill="#1f62d2" stroke="#fff" stroke-width="1.6" stroke-opacity="0.8" paint-order="stroke">WCMW-DT</text></g>
<g><rect x="308.11" y="739.99" width="8.8" height="3.1" rx="0.9" fill="#0c4fc4"/><text class="m" transform="translate(315.90 737.03) rotate(-90) scale(1.0178 0.88)" fill="#1f62d2" stroke="#fff" stroke-width="1.6" stroke-opacity="0.8" paint-order="stroke">WBAY-DT</text></g>
<g><rect x="400.76" y="741.90" width="8.8" height="3.1" rx="0.9" fill="#0c4fc4"/><text class="m" transform="translate(408.56 738.95) rotate(-90) scale(1.0178 0.88)" fill="#1f62d2" stroke="#fff" stroke-width="1.6" stroke-opacity="0.8" paint-order="stroke">WFQX-TV</text></g>
<g><rect x="472.83" y="741.00" width="8.8" height="3.1" rx="0.9" fill="#0c4fc4"/><text class="m" transform="translate(480.62 738.05) rotate(-90) scale(1.0178 0.88)" fill="#1f62d2" stroke="#fff" stroke-width="1.6" stroke-opacity="0.8" paint-order="stroke">WFRV-DT</text></g>
<rect x="503.71" y="745.7" width="8.8" height="6.3" rx="0.9" fill="#6d9cdc"/>
<text class="m" opacity="0.5" transform="translate(511.51 743.30) rotate(-90) scale(1.0178 0.88)" fill="#1f62d2" stroke="#fff" stroke-width="1.6" stroke-opacity="0.8" paint-order="stroke">W42CB-D</text>
<text class="m" opacity="0.5" transform="translate(511.51 743.30) rotate(-90) scale(1.0178 0.88)" fill="#1f62d2" stroke="#fff" stroke-width="1.6" stroke-opacity="0.8" paint-order="stroke">WPNE-TV</text>
<g><rect x="586.07" y="738.33" width="8.8" height="3.1" rx="0.9" fill="#0c4fc4"/><text class="m" transform="translate(593.87 735.38) rotate(-90) scale(1.0178 0.88)" fill="#1f62d2" stroke="#fff" stroke-width="1.6" stroke-opacity="0.8" paint-order="stroke">WPBN-TV</text></g>
</svg></body></html>
